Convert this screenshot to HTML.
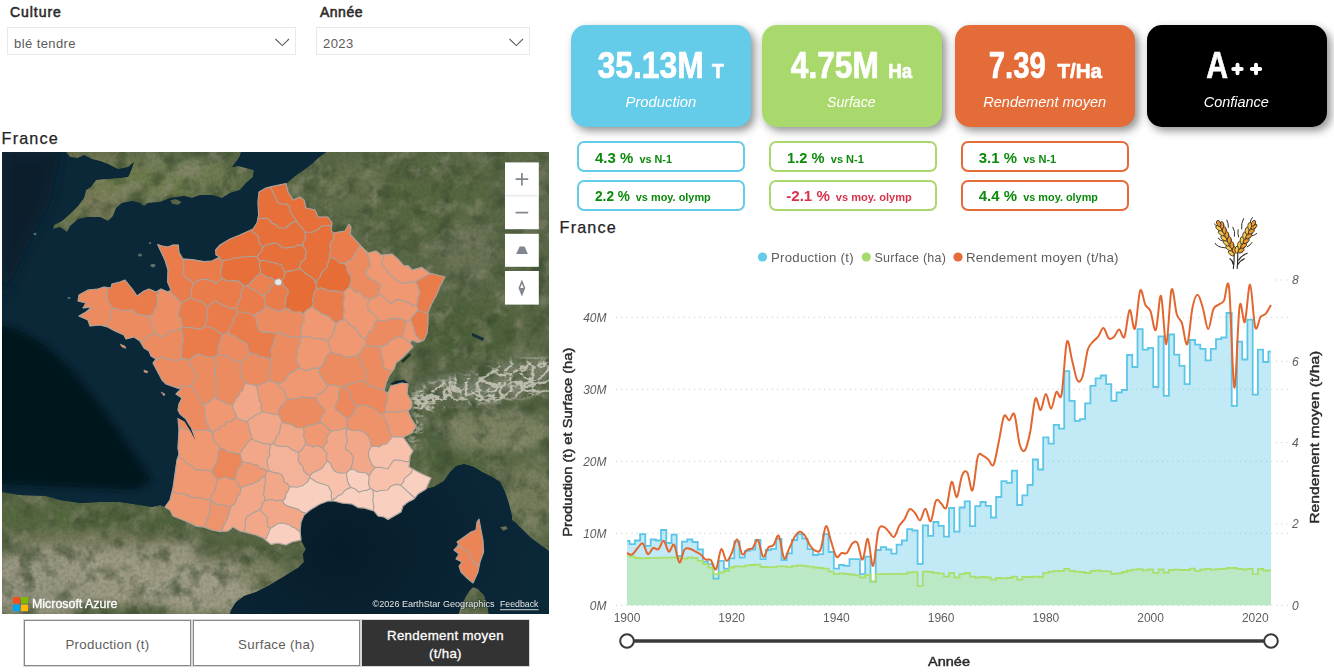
<!DOCTYPE html>
<html><head><meta charset="utf-8"><title>Dashboard</title>
<style>
*{box-sizing:border-box}
html,body{margin:0;padding:0}
body{width:1334px;height:672px;overflow:hidden;background:#fff;font-family:"Liberation Sans",sans-serif;position:relative;color:#252423}
.abs{position:absolute}
.slab{position:absolute;top:4px;font-size:14px;font-weight:normal;letter-spacing:.5px;-webkit-text-stroke:.55px #2b2a29;line-height:16px;color:#2b2a29}
.sbox{position:absolute;top:27px;height:28px;border:1px solid #e9e9e9;background:#fff;font-size:13px;letter-spacing:.42px;color:#5b5a58;line-height:28px;padding-left:6px;padding-top:2px}
.ttl{position:absolute;font-size:16.2px;letter-spacing:1.15px;line-height:18px;color:#252423;-webkit-text-stroke:.25px #252423}
.card{position:absolute;top:25px;width:180px;height:102px;border-radius:15px;box-shadow:3.5px 4px 9px rgba(0,0,0,.42);color:#fff;text-align:center}
.card .v{position:absolute;left:0;right:0;top:22px;font-weight:bold;font-size:34px;line-height:36px;white-space:nowrap;transform:scaleX(.935)}
.card .v small{font-size:19px;letter-spacing:0;margin-left:3px}
.card .l{position:absolute;left:0;right:0;top:66px;font-style:italic;font-size:15px;line-height:20px}
.bdg{position:absolute;width:168px;height:31px;border:2px solid;border-radius:7px;background:#fff;font-weight:bold;color:#0c8a0c;white-space:nowrap;padding-left:16px;line-height:29px;font-size:14.5px}
.bdg small{font-size:11px;margin-left:2px}
.bdg.neg{color:#d8334c}
.btn{position:absolute;top:620.4px;height:45.6px;width:166.9px;border:1px solid #8a8886;outline:1px solid #d8d8d8;outline-offset:0;background:#fff;color:#605e5c;font-size:13.3px;text-align:center;line-height:47.5px;letter-spacing:.3px}
.btn.on{background:#333;color:#fff;border-color:#333;line-height:17.8px;padding-top:5.6px;-webkit-text-stroke:.3px #fff}
svg text{font-family:"Liberation Sans",sans-serif}
</style></head><body>

<div class="slab" style="left:10px;letter-spacing:.95px">Culture</div>
<div class="sbox" style="left:7px;width:289px">blé tendre</div>
<svg class="abs" style="left:272px;top:34px" width="22" height="16"><polyline points="3.5,5 10.3,11.6 17,5" fill="none" stroke="#605e5c" stroke-width="1.1"/></svg>
<div class="slab" style="left:320px">Année</div>
<div class="sbox" style="left:316px;width:213.5px">2023</div>
<svg class="abs" style="left:505.5px;top:34px" width="22" height="16"><polyline points="3.5,5 10.3,11.6 17,5" fill="none" stroke="#605e5c" stroke-width="1.1"/></svg>

<div class="ttl" style="left:1.6px;top:129px">France</div>
<div class="abs" id="map" style="left:2px;top:152px;width:547px;height:462.4px;overflow:hidden;background:#0b2636"><svg width="547" height="462" viewBox="2 152 547 462" style="position:absolute;left:0;top:0">
<defs>
<radialGradient id="oc1" cx="0.12" cy="0.62" r="0.42"><stop offset="0" stop-color="#03131d"/><stop offset="1" stop-color="#03131d" stop-opacity="0"/></radialGradient>
<radialGradient id="oc2" cx="0.62" cy="0.86" r="0.35"><stop offset="0" stop-color="#071c2a"/><stop offset="1" stop-color="#071c2a" stop-opacity="0"/></radialGradient>
<filter id="tex" x="0" y="0" width="100%" height="100%" color-interpolation-filters="sRGB">
<feTurbulence type="fractalNoise" baseFrequency="0.055" numOctaves="5" seed="11" result="n"/>
<feColorMatrix in="n" type="matrix" values="0 0 0 0 0  0 0 0 0 0  0 0 0 0 0  3.2 0 0 0 -1.5" result="a"/>
<feFlood flood-color="#3c4d31" flood-opacity=".65"/><feComposite operator="in" in2="a" result="dark"/>
<feColorMatrix in="n" type="matrix" values="0 0 0 0 0  0 0 0 0 0  0 0 0 0 0  0 3.2 0 0 -1.62" result="a2"/>
<feFlood flood-color="#93917a" flood-opacity=".55"/><feComposite operator="in" in2="a2" result="lite"/>
<feTurbulence type="fractalNoise" baseFrequency="0.3" numOctaves="2" seed="3" result="g"/>
<feColorMatrix in="g" type="matrix" values="0 0 0 0 0  0 0 0 0 0  0 0 0 0 0  0 0 1.6 0 -0.62" result="a3"/>
<feFlood flood-color="#2f3c26" flood-opacity=".25"/><feComposite operator="in" in2="a3" result="grain"/>
<feMerge result="m"><feMergeNode in="SourceGraphic"/><feMergeNode in="dark"/><feMergeNode in="lite"/><feMergeNode in="grain"/></feMerge>
<feComposite in="m" in2="SourceGraphic" operator="in"/>
</filter>
<filter id="snow" x="-10%" y="-30%" width="120%" height="160%" color-interpolation-filters="sRGB">
<feGaussianBlur in="SourceAlpha" stdDeviation="3.5" result="soft"/>
<feTurbulence type="turbulence" baseFrequency="0.09 0.12" numOctaves="3" seed="5" result="t"/>
<feColorMatrix in="t" type="matrix" values="0 0 0 0 0  0 0 0 0 0  0 0 0 0 0  -4.2 0 0 0 1.38" result="ta"/>
<feComposite in="ta" in2="soft" operator="arithmetic" k1="1.5" k2="0" k3="0" k4="0" result="mask"/>
<feFlood flood-color="#cbc9bd" flood-opacity=".85"/><feComposite operator="in" in2="mask"/>
<feGaussianBlur stdDeviation="0.7"/>
</filter>
<filter id="b3"><feGaussianBlur stdDeviation="3"/></filter>
<filter id="b6"><feGaussianBlur stdDeviation="6"/></filter>
<filter id="b1"><feGaussianBlur stdDeviation="0.5"/></filter>
<clipPath id="landclip"><path d="M286.0,183.6L295.0,176.0L305.0,169.0L313.0,163.0L318.0,158.0L326.0,152.0L549.0,152.0L549.0,551.0L539.0,544.0L531.0,538.0L523.0,530.0L516.0,523.0L512.0,520.0L512.0,516.0L509.0,504.0L505.0,492.0L500.0,482.0L492.0,477.0L482.0,472.0L474.0,467.0L464.0,464.0L456.0,466.0L450.0,472.0L444.0,481.0L434.0,487.0L426.0,489.0L380.0,480.0L350.0,300.0L300.0,220.0L280.0,200.0ZM165.0,507.0L160.0,505.0L152.0,507.0L140.0,505.0L120.0,502.0L100.0,502.0L80.0,503.0L60.0,500.0L46.0,496.0L20.0,495.0L2.0,492.0L2.0,614.0L230.0,614.0L231.0,610.0L236.0,602.0L244.0,596.0L256.0,592.0L268.0,586.0L278.0,580.0L288.0,574.0L298.0,568.0L304.0,562.0L303.0,554.0L306.0,549.0L304.0,546.0L301.0,540.0L290.0,520.0L200.0,500.0ZM66.0,152.0L70.0,157.0L78.0,158.0L84.0,155.0L92.0,159.0L100.0,161.0L108.0,164.0L118.0,169.0L128.0,167.0L134.0,162.0L131.0,171.0L128.0,177.0L120.0,178.0L108.0,179.0L96.0,180.0L91.0,187.0L86.0,190.0L84.0,198.0L78.0,206.0L70.0,214.0L62.0,221.0L54.0,225.0L53.0,229.0L60.0,227.0L67.0,232.0L70.0,226.0L78.0,219.0L88.0,217.0L100.0,217.0L108.0,221.0L113.0,216.0L116.0,208.0L122.0,203.0L132.0,201.0L140.0,203.0L144.0,206.0L148.0,203.0L160.0,202.0L170.0,198.0L184.0,196.0L192.0,198.0L200.0,195.0L212.0,195.0L222.0,198.0L230.0,193.0L240.0,190.0L246.0,183.0L253.0,177.0L254.0,170.0L246.0,168.0L238.0,166.0L232.0,167.0L236.0,162.0L240.0,156.0L241.0,152.0ZM473.0,587.0L478.0,589.0L484.0,595.0L487.0,603.0L489.0,615.0L458.0,615.0L462.0,604.0L466.0,596.0L470.0,590.0Z"/></clipPath>
</defs>
<rect x="2" y="152" width="547" height="462" fill="#0b2838"/>
<path d="M-10,322L20,330L45,345L70,368L95,398L118,430L140,462L152,480L135,490L90,488L40,486L-10,484Z" fill="#04151f" filter="url(#b3)" opacity=".95"/>
<path d="M2,152L60,152L50,200L20,260L2,300Z" fill="#071d2b" filter="url(#b6)" opacity=".8"/>
<rect x="2" y="152" width="547" height="462" fill="url(#oc2)"/>
<g filter="url(#b1)"><g filter="url(#tex)"><path d="M286.0,183.6L295.0,176.0L305.0,169.0L313.0,163.0L318.0,158.0L326.0,152.0L549.0,152.0L549.0,551.0L539.0,544.0L531.0,538.0L523.0,530.0L516.0,523.0L512.0,520.0L512.0,516.0L509.0,504.0L505.0,492.0L500.0,482.0L492.0,477.0L482.0,472.0L474.0,467.0L464.0,464.0L456.0,466.0L450.0,472.0L444.0,481.0L434.0,487.0L426.0,489.0L380.0,480.0L350.0,300.0L300.0,220.0L280.0,200.0ZM165.0,507.0L160.0,505.0L152.0,507.0L140.0,505.0L120.0,502.0L100.0,502.0L80.0,503.0L60.0,500.0L46.0,496.0L20.0,495.0L2.0,492.0L2.0,614.0L230.0,614.0L231.0,610.0L236.0,602.0L244.0,596.0L256.0,592.0L268.0,586.0L278.0,580.0L288.0,574.0L298.0,568.0L304.0,562.0L303.0,554.0L306.0,549.0L304.0,546.0L301.0,540.0L290.0,520.0L200.0,500.0ZM66.0,152.0L70.0,157.0L78.0,158.0L84.0,155.0L92.0,159.0L100.0,161.0L108.0,164.0L118.0,169.0L128.0,167.0L134.0,162.0L131.0,171.0L128.0,177.0L120.0,178.0L108.0,179.0L96.0,180.0L91.0,187.0L86.0,190.0L84.0,198.0L78.0,206.0L70.0,214.0L62.0,221.0L54.0,225.0L53.0,229.0L60.0,227.0L67.0,232.0L70.0,226.0L78.0,219.0L88.0,217.0L100.0,217.0L108.0,221.0L113.0,216.0L116.0,208.0L122.0,203.0L132.0,201.0L140.0,203.0L144.0,206.0L148.0,203.0L160.0,202.0L170.0,198.0L184.0,196.0L192.0,198.0L200.0,195.0L212.0,195.0L222.0,198.0L230.0,193.0L240.0,190.0L246.0,183.0L253.0,177.0L254.0,170.0L246.0,168.0L238.0,166.0L232.0,167.0L236.0,162.0L240.0,156.0L241.0,152.0ZM473.0,587.0L478.0,589.0L484.0,595.0L487.0,603.0L489.0,615.0L458.0,615.0L462.0,604.0L466.0,596.0L470.0,590.0ZM170.0,200.0L176.0,199.0L182.0,202.0L178.0,205.0L172.0,204.0ZM500.0,527.0L506.0,526.0L508.0,529.0L503.0,531.0Z" fill="#5b6947"/>
<g clip-path="url(#landclip)" filter="url(#b6)">
<ellipse cx="430" cy="200" rx="60" ry="40" fill="#56683f" opacity="0.8"/>
<ellipse cx="350" cy="185" rx="40" ry="22" fill="#6c7553" opacity="0.8"/>
<ellipse cx="470" cy="330" rx="50" ry="26" fill="#4f633b" opacity="0.9"/>
<ellipse cx="470" cy="250" rx="30" ry="30" fill="#72785c" opacity="0.7"/>
<ellipse cx="530" cy="200" rx="20" ry="50" fill="#6c7356" opacity="0.6"/>
<ellipse cx="430" cy="440" rx="18" ry="18" fill="#4d633d" opacity="0.8"/>
<ellipse cx="480" cy="385" rx="75" ry="22" fill="#4b5d3a" opacity="0.6"/>
<ellipse cx="470" cy="388" rx="55" ry="9" fill="#8f9484" opacity="0.7"/>
<ellipse cx="525" cy="372" rx="28" ry="10" fill="#8f9484" opacity="0.7"/>
<ellipse cx="495" cy="432" rx="55" ry="20" fill="#7f8666" opacity="0.95"/>
<ellipse cx="530" cy="500" rx="25" ry="40" fill="#7c8260" opacity="0.8"/>
<ellipse cx="480" cy="160" rx="60" ry="12" fill="#5d6c48" opacity="0.6"/>
<ellipse cx="455" cy="463" rx="34" ry="8" fill="#4f643b" opacity="0.9"/>
<ellipse cx="130" cy="572" rx="140" ry="34" fill="#a19d86" opacity="1"/>
<ellipse cx="60" cy="520" rx="75" ry="14" fill="#55693e" opacity="0.95"/>
<ellipse cx="150" cy="522" rx="50" ry="10" fill="#4f633b" opacity="0.95"/>
<ellipse cx="235" cy="552" rx="45" ry="11" fill="#55623f" opacity="0.95"/>
<ellipse cx="205" cy="592" rx="60" ry="24" fill="#a19e88" opacity="0.95"/>
<ellipse cx="40" cy="590" rx="55" ry="30" fill="#9a9884" opacity="0.95"/>
<ellipse cx="262" cy="575" rx="25" ry="18" fill="#7c8162" opacity="0.85"/>
<ellipse cx="100" cy="540" rx="80" ry="10" fill="#77795a" opacity="0.8"/>
<ellipse cx="150" cy="178" rx="75" ry="20" fill="#717d50" opacity="0.95"/>
<ellipse cx="100" cy="205" rx="26" ry="14" fill="#868462" opacity="0.85"/>
<ellipse cx="215" cy="178" rx="30" ry="14" fill="#6f7b50" opacity="0.9"/>
<ellipse cx="90" cy="160" rx="32" ry="8" fill="#7b7c5a" opacity="0.85"/>
<ellipse cx="70" cy="215" rx="16" ry="9" fill="#717d50" opacity="0.9"/>
<ellipse cx="185" cy="165" rx="40" ry="10" fill="#75805a" opacity="0.8"/>
</g></g></g>
<g clip-path="url(#landclip)"><path filter="url(#snow)" d="M410,398C425,384 445,378 465,377C485,374 500,362 520,360C535,358 545,360 552,362L552,392C540,392 528,396 512,398C495,402 480,404 465,402C445,400 430,412 416,416Z" fill="#fff"/><path filter="url(#snow)" d="M412,418C416,428 410,436 408,446L414,448C418,438 424,428 422,416Z" fill="#fff" opacity=".7"/></g>
<path d="M390,384L396,380.5L404,380L408,383L402,383.5L394,385Z" fill="#0c2634"/>
<path d="M401,361L410,353L411,355L403,363Z" fill="#1f3324"/>
<path d="M472,333L484,338L483,341L472,336Z" fill="#16303a"/>
<g stroke="none">
<path d="M282.3,204.2L286.9,204.0L289.7,207.0L290.0,211.3L299.2,225.1L302.5,228.2L304.9,232.0L312.2,232.3L318.8,229.1L321.7,226.1L328.8,225.5L331.6,225.8L332.0,223.0L328.0,217.0L318.0,217.0L315.0,210.0L306.0,208.0L304.0,200.0L300.0,197.0L293.0,200.0L288.0,192.0L286.0,183.6L270.5,186.9L278.0,202.7Z" fill="#e76f39" stroke="#e76f39" stroke-width=".5"/>
<path d="M262.5,218.6L266.5,218.0L269.7,220.1L272.1,223.4L276.1,224.6L278.6,227.7L282.9,228.2L286.7,227.5L289.6,224.3L292.8,222.1L296.6,221.2L290.0,211.3L289.7,207.0L286.9,204.0L282.3,204.2L278.0,202.7L270.5,186.9L266.0,188.0L259.0,192.0L258.0,202.0L258.6,215.0L258.0,218.0Z" fill="#e76f39" stroke="#e76f39" stroke-width=".5"/>
<path d="M252.6,231.6L258.7,236.7L258.7,240.9L260.0,244.4L262.8,247.1L266.1,245.0L273.4,243.1L277.3,243.3L282.5,247.8L286.6,247.9L290.6,247.1L294.7,247.0L298.6,244.6L302.9,245.9L303.4,242.5L305.4,239.2L304.9,232.0L302.5,228.2L299.2,225.1L296.6,221.2L292.8,222.1L289.6,224.3L286.7,227.5L282.9,228.2L278.6,227.7L276.1,224.6L272.1,223.4L269.7,220.1L266.5,218.0L262.5,218.6L258.0,218.0L257.0,223.0L253.0,229.0L252.0,229.5Z" fill="#e76f39" stroke="#e76f39" stroke-width=".5"/>
<path d="M246.3,257.0L249.8,256.3L256.9,256.5L261.7,250.8L262.8,247.1L260.0,244.4L258.7,240.9L258.7,236.7L252.6,231.6L252.0,229.5L240.0,235.0L230.0,239.0L220.0,245.0L215.6,250.0L216.0,255.0L220.0,257.0L217.8,258.1L219.3,259.3L223.0,260.6L230.6,259.2L234.3,258.0L238.2,258.0L242.0,257.2L242.8,256.5Z" fill="#e76f39" stroke="#e76f39" stroke-width=".5"/>
<path d="M259.6,261.1L263.5,260.2L281.6,264.8L282.9,268.7L285.3,272.0L288.9,271.5L296.1,269.8L299.5,268.3L300.2,264.6L301.8,261.2L305.5,258.7L305.6,254.7L306.4,251.0L302.9,245.9L298.6,244.6L294.7,247.0L290.6,247.1L286.6,247.9L282.5,247.8L277.3,243.3L273.4,243.1L266.1,245.0L262.8,247.1L261.7,250.8L256.9,256.5Z" fill="#e76f39" stroke="#e76f39" stroke-width=".5"/>
<path d="M305.4,239.2L303.4,242.5L302.9,245.9L306.4,251.0L305.6,254.7L305.5,258.7L301.8,261.2L300.2,264.6L299.5,268.3L305.2,273.3L311.7,277.4L314.4,280.0L316.1,283.8L317.2,280.2L319.9,277.4L321.1,273.9L323.2,270.8L326.7,268.4L328.5,261.0L329.9,257.5L329.2,256.3L329.8,252.7L331.1,249.3L329.6,245.3L331.0,242.0L333.8,238.9L333.2,235.1L334.3,232.8L333.0,233.0L331.0,230.0L331.6,225.8L328.8,225.5L321.7,226.1L318.8,229.1L312.2,232.3L304.9,232.0Z" fill="#e76f39" stroke="#e76f39" stroke-width=".5"/>
<path d="M333.2,235.1L333.8,238.9L331.0,242.0L329.6,245.3L331.1,249.3L329.8,252.7L329.2,256.3L329.9,257.5L333.9,258.1L340.3,263.2L344.4,263.6L347.2,261.3L351.0,260.2L356.8,251.1L358.3,247.6L361.1,246.1L350.0,234.0L351.0,227.0L349.0,224.4L345.0,231.0L334.3,232.8Z" fill="#ea7c4b" stroke="#ea7c4b" stroke-width=".5"/>
<path d="M328.5,261.0L326.7,268.4L323.2,270.8L321.1,273.9L319.9,277.4L317.2,280.2L316.1,283.8L316.6,288.8L320.7,287.9L328.3,290.4L332.2,291.1L336.2,290.6L340.0,292.0L344.0,291.9L349.0,287.2L350.7,282.4L351.6,277.4L347.2,270.9L346.9,266.6L344.4,263.6L340.3,263.2L333.9,258.1L329.9,257.5Z" fill="#e76d36" stroke="#e76d36" stroke-width=".5"/>
<path d="M356.8,251.1L351.0,260.2L347.2,261.3L344.4,263.6L346.9,266.6L347.2,270.9L351.6,277.4L350.7,282.4L349.0,287.2L352.6,289.1L355.4,292.5L360.1,292.4L362.8,295.9L366.0,298.5L370.3,299.0L375.1,297.7L378.8,294.4L379.3,289.4L380.8,284.6L377.5,282.9L374.8,280.2L370.7,279.6L365.7,273.8L367.2,269.2L370.7,265.9L370.2,262.0L366.0,251.0L361.1,246.1L358.3,247.6Z" fill="#ed8b60" stroke="#ed8b60" stroke-width=".5"/>
<path d="M366.0,251.0L370.2,262.0L370.7,265.9L367.2,269.2L365.7,273.8L370.7,279.6L374.8,280.2L377.5,282.9L380.8,284.6L379.3,289.4L378.8,294.4L382.4,296.1L388.2,301.3L391.5,303.4L394.8,300.6L399.1,299.4L402.4,300.9L406.1,301.3L412.3,305.4L416.2,305.4L417.7,301.4L418.2,297.0L420.1,293.1L417.7,285.3L415.1,282.1L413.8,281.4L405.5,283.4L401.2,282.5L397.7,281.3L392.4,276.4L391.9,276.4L388.7,274.0L387.1,270.1L381.8,264.3L382.4,260.8L384.7,254.7L381.0,255.0L376.0,251.0L368.0,253.0Z" fill="#ef9872" stroke="#ef9872" stroke-width=".5"/>
<path d="M382.4,260.8L381.8,264.3L387.1,270.1L388.7,274.0L391.9,276.4L392.4,276.4L397.7,281.3L401.2,282.5L405.5,283.4L413.8,281.4L415.1,282.1L430.4,273.3L429.0,273.0L422.0,267.4L412.0,270.0L408.0,265.6L404.0,266.0L398.0,259.0L392.0,254.0L384.7,254.7Z" fill="#ef9872" stroke="#ef9872" stroke-width=".5"/>
<path d="M417.7,285.3L420.1,293.1L418.2,297.0L417.7,301.4L416.2,305.4L417.4,307.9L418.0,310.5L428.0,313.3L428.0,312.0L432.0,303.0L436.0,296.0L440.0,286.0L445.0,277.0L430.4,273.3L415.1,282.1Z" fill="#ea7c4b" stroke="#ea7c4b" stroke-width=".5"/>
<path d="M410.4,320.0L413.5,326.4L415.0,333.6L416.8,336.7L421.6,341.0L424.0,340.0L427.0,333.0L428.0,324.0L428.0,313.3L418.0,310.5L412.4,316.4Z" fill="#ea7c4b" stroke="#ea7c4b" stroke-width=".5"/>
<path d="M223.0,260.6L220.7,271.5L220.7,275.2L223.0,278.8L226.5,280.8L234.8,280.6L238.7,281.2L244.0,286.0L245.7,285.8L249.5,284.4L251.8,281.2L254.7,278.7L257.1,275.6L260.2,273.4L260.6,269.3L259.4,265.2L259.6,261.1L256.9,256.5L249.8,256.3L246.3,257.0L242.8,256.5L242.0,257.2L238.2,258.0L234.3,258.0L230.6,259.2Z" fill="#e76f39" stroke="#e76f39" stroke-width=".5"/>
<path d="M259.4,265.2L260.6,269.3L260.2,273.4L263.7,274.8L266.6,277.2L270.7,277.6L273.8,279.6L276.7,282.2L281.4,281.0L284.0,276.8L285.3,272.0L282.9,268.7L281.6,264.8L263.5,260.2L259.6,261.1Z" fill="#e76f39" stroke="#e76f39" stroke-width=".5"/>
<path d="M257.1,275.6L254.7,278.7L251.8,281.2L249.5,284.4L245.7,285.8L258.6,292.1L261.1,294.9L264.1,296.7L265.8,293.0L269.5,291.2L270.1,286.7L276.7,282.2L273.8,279.6L270.7,277.6L266.6,277.2L263.7,274.8L260.2,273.4Z" fill="#eb8051" stroke="#eb8051" stroke-width=".5"/>
<path d="M264.1,296.7L265.6,305.8L276.1,310.5L279.9,311.4L284.9,308.8L285.8,297.1L288.3,293.6L287.9,289.5L285.2,287.1L281.4,281.0L276.7,282.2L270.1,286.7L269.5,291.2L265.8,293.0Z" fill="#ea7c4b" stroke="#ea7c4b" stroke-width=".5"/>
<path d="M281.4,281.0L285.2,287.1L287.9,289.5L288.3,293.6L285.8,297.1L284.9,308.8L288.9,308.9L292.2,311.7L296.0,312.3L300.2,311.8L303.7,313.9L305.9,310.6L312.5,306.6L313.5,303.1L312.4,299.4L313.6,295.9L314.1,292.3L316.6,288.8L316.1,283.8L314.4,280.0L311.7,277.4L305.2,273.3L299.5,268.3L296.1,269.8L285.3,272.0L284.0,276.8Z" fill="#e76d36" stroke="#e76d36" stroke-width=".5"/>
<path d="M313.6,295.9L312.4,299.4L313.5,303.1L312.5,306.6L315.0,309.4L318.1,311.2L320.9,313.6L328.0,316.1L330.9,318.4L333.2,321.5L336.3,323.3L339.7,320.5L344.0,319.5L343.1,315.6L344.3,311.6L344.0,307.7L343.0,303.7L344.3,299.8L344.0,291.9L340.0,292.0L336.2,290.6L332.2,291.1L328.3,290.4L320.7,287.9L316.6,288.8L314.1,292.3Z" fill="#ea7c4b" stroke="#ea7c4b" stroke-width=".5"/>
<path d="M207.7,279.6L212.3,280.7L216.0,283.9L219.1,280.7L223.0,278.8L220.7,275.2L220.7,271.5L223.0,260.6L219.3,259.3L217.8,258.1L212.0,261.0L204.0,261.6L192.0,259.6L184.4,259.1L183.0,260.6L183.9,268.8L183.0,273.1L184.6,277.1L191.1,280.4L193.0,283.7L199.4,280.1L203.0,279.2Z" fill="#ea7c4b" stroke="#ea7c4b" stroke-width=".5"/>
<path d="M165.0,260.0L168.0,270.0L167.6,282.0L171.0,290.0L169.0,291.3L170.9,292.3L173.2,295.3L176.5,297.3L181.3,303.3L184.3,301.2L190.7,297.8L191.5,294.3L191.5,290.7L193.0,283.7L191.1,280.4L184.6,277.1L183.0,273.1L183.9,268.8L183.0,260.6L184.4,259.1L183.0,259.0L179.0,252.6L178.3,245.0L173.0,245.0L168.0,247.0L162.0,246.0L157.7,244.6Z" fill="#ea7c4b" stroke="#ea7c4b" stroke-width=".5"/>
<path d="M191.5,290.7L191.5,294.3L190.7,297.8L194.2,299.6L197.9,300.8L202.0,301.4L204.7,304.7L208.1,306.6L211.4,302.9L216.0,301.3L223.4,305.5L231.1,308.7L235.7,307.9L237.8,304.5L238.7,300.7L241.0,297.4L240.8,293.1L244.0,286.0L238.7,281.2L234.8,280.6L226.5,280.8L223.0,278.8L219.1,280.7L216.0,283.9L212.3,280.7L207.7,279.6L203.0,279.2L199.4,280.1L193.0,283.7Z" fill="#ea7c4b" stroke="#ea7c4b" stroke-width=".5"/>
<path d="M244.0,286.0L240.8,293.1L241.0,297.4L238.7,300.7L237.8,304.5L235.7,307.9L237.6,312.0L241.9,312.0L245.9,313.2L250.1,313.7L253.9,315.6L257.0,313.3L260.6,311.7L263.6,309.4L265.6,305.8L264.1,296.7L261.1,294.9L258.6,292.1L245.7,285.8Z" fill="#ea7c4b" stroke="#ea7c4b" stroke-width=".5"/>
<path d="M107.6,299.4L107.3,287.5L104.0,287.0L98.0,289.0L88.0,290.0L79.0,295.0L78.0,301.0L86.0,303.0L83.0,308.0L92.0,307.0L86.0,312.0L79.0,316.0L88.0,320.0L90.0,326.0L100.0,325.0L107.6,326.9L107.7,322.0L110.0,318.8L111.2,311.6L112.7,308.2L111.0,305.3L108.6,302.9Z" fill="#ed8b60" stroke="#ed8b60" stroke-width=".5"/>
<path d="M107.3,287.5L107.6,299.4L108.6,302.9L111.0,305.3L112.7,308.2L116.7,308.7L120.6,310.7L132.9,309.8L134.5,312.2L136.8,314.0L145.5,315.9L149.9,315.8L153.8,312.9L154.5,309.4L157.1,306.4L157.7,299.3L156.6,295.5L158.8,292.4L158.9,290.3L156.0,292.0L149.0,289.0L144.0,291.0L137.0,296.0L133.0,290.0L125.0,280.0L120.0,282.0L112.0,284.0L111.0,288.0Z" fill="#ea7c4b" stroke="#ea7c4b" stroke-width=".5"/>
<path d="M111.2,311.6L110.0,318.8L107.7,322.0L107.6,326.9L115.0,331.0L124.0,335.0L126.0,339.0L134.0,337.0L140.0,341.0L140.9,342.7L142.3,341.0L145.4,339.1L151.0,334.2L154.7,333.2L154.4,329.5L150.2,323.2L149.9,315.8L145.5,315.9L136.8,314.0L134.5,312.2L132.9,309.8L120.6,310.7L116.7,308.7L112.7,308.2Z" fill="#ed8b60" stroke="#ed8b60" stroke-width=".5"/>
<path d="M156.6,295.5L157.7,299.3L157.1,306.4L154.5,309.4L153.8,312.9L149.9,315.8L149.8,319.6L150.2,323.2L154.4,329.5L154.7,333.2L161.2,336.7L164.6,335.6L167.4,333.1L170.5,331.4L181.0,328.8L182.5,326.8L180.9,318.5L177.9,315.3L179.5,311.4L179.7,307.2L181.3,303.3L176.5,297.3L173.2,295.3L170.9,292.3L169.0,291.3L168.0,292.0L161.0,289.0L158.9,290.3L158.8,292.4Z" fill="#ed8e64" stroke="#ed8e64" stroke-width=".5"/>
<path d="M179.7,307.2L179.5,311.4L177.9,315.3L180.9,318.5L182.5,326.8L186.6,327.9L190.8,327.2L194.9,328.4L199.0,328.9L202.3,328.0L205.1,326.2L205.9,322.3L207.8,318.6L207.1,314.4L207.3,310.5L208.1,306.6L204.7,304.7L202.0,301.4L197.9,300.8L194.2,299.6L190.7,297.8L184.3,301.2L181.3,303.3Z" fill="#ea7c4b" stroke="#ea7c4b" stroke-width=".5"/>
<path d="M207.3,310.5L207.1,314.4L207.8,318.6L205.9,322.3L205.1,326.2L212.8,328.2L216.2,330.4L219.3,333.1L223.3,334.0L228.3,332.2L229.0,328.4L231.7,325.6L233.3,322.3L233.4,318.2L236.2,315.4L237.6,312.0L235.7,307.9L231.1,308.7L223.4,305.5L216.0,301.3L211.4,302.9L208.1,306.6Z" fill="#ea7c4b" stroke="#ea7c4b" stroke-width=".5"/>
<path d="M256.3,323.4L259.5,330.9L263.6,332.7L268.0,332.3L276.5,333.7L277.9,332.9L282.0,332.7L285.4,335.4L289.1,336.6L293.0,337.0L297.1,336.5L300.7,338.2L301.9,337.4L300.6,329.4L301.9,325.6L304.2,321.8L303.7,313.9L300.2,311.8L296.0,312.3L292.2,311.7L288.9,308.9L284.9,308.8L279.9,311.4L276.1,310.5L265.6,305.8L263.6,309.4L260.6,311.7L257.0,313.3L253.9,315.6L256.6,319.0Z" fill="#ed8b60" stroke="#ed8b60" stroke-width=".5"/>
<path d="M303.7,313.9L304.2,321.8L301.9,325.6L300.6,329.4L301.9,337.4L309.5,336.8L313.0,338.2L316.7,338.7L320.4,338.6L327.6,340.8L330.5,337.9L334.1,331.0L336.3,323.3L333.2,321.5L330.9,318.4L328.0,316.1L320.9,313.6L318.1,311.2L315.0,309.4L312.5,306.6L305.9,310.6Z" fill="#ef9872" stroke="#ef9872" stroke-width=".5"/>
<path d="M233.4,318.2L233.3,322.3L231.7,325.6L229.0,328.4L228.3,332.2L231.0,335.0L234.7,336.3L240.9,340.6L244.5,342.1L247.5,344.4L247.8,348.6L249.1,352.7L252.4,354.3L256.4,353.8L259.4,356.7L263.3,356.7L266.7,358.1L270.3,358.9L271.6,358.0L271.9,354.4L271.3,350.7L271.8,347.2L274.1,344.1L273.8,340.4L275.8,337.2L276.5,333.7L268.0,332.3L263.6,332.7L259.5,330.9L256.3,323.4L256.6,319.0L253.9,315.6L250.1,313.7L245.9,313.2L241.9,312.0L237.6,312.0L236.2,315.4Z" fill="#ea7c4b" stroke="#ea7c4b" stroke-width=".5"/>
<path d="M166.1,359.1L176.7,360.5L181.0,358.9L181.5,355.1L181.4,347.6L183.5,340.1L182.6,336.3L182.6,332.6L181.0,328.8L170.5,331.4L167.4,333.1L164.6,335.6L161.2,336.7L154.7,333.2L151.0,334.2L145.4,339.1L142.3,341.0L140.9,342.7L144.0,348.0L149.0,351.0L151.0,356.0L156.0,359.0L155.3,359.9L156.9,359.8L163.2,356.6Z" fill="#ed8b60" stroke="#ed8b60" stroke-width=".5"/>
<path d="M202.8,355.7L210.7,357.5L215.0,356.6L218.3,354.0L218.0,349.6L219.5,341.5L223.3,334.0L219.3,333.1L216.2,330.4L212.8,328.2L205.1,326.2L202.3,328.0L199.0,328.9L194.9,328.4L190.8,327.2L186.6,327.9L182.5,326.8L181.0,328.8L182.6,332.6L182.6,336.3L183.5,340.1L181.4,347.6L181.5,355.1L181.0,358.9L185.0,358.9L188.7,360.3L195.1,355.2L199.0,353.7Z" fill="#ea7c4b" stroke="#ea7c4b" stroke-width=".5"/>
<path d="M223.3,334.0L219.5,341.5L218.0,349.6L218.3,354.0L221.5,355.5L225.3,355.6L228.7,356.7L231.5,359.5L234.8,361.0L241.8,362.8L244.1,359.3L247.0,356.3L249.1,352.7L247.8,348.6L247.5,344.4L244.5,342.1L240.9,340.6L234.7,336.3L231.0,335.0L228.3,332.2Z" fill="#ed8b60" stroke="#ed8b60" stroke-width=".5"/>
<path d="M273.8,340.4L274.1,344.1L271.8,347.2L271.3,350.7L271.9,354.4L271.6,358.0L270.3,358.9L270.8,362.5L269.5,369.6L268.1,373.1L268.6,380.3L273.2,381.6L277.4,383.9L281.4,382.6L284.5,380.1L289.6,373.6L293.2,371.8L296.3,369.3L300.0,367.7L298.4,363.7L296.0,360.2L296.4,356.4L297.6,352.9L297.3,348.9L299.5,345.6L300.7,338.2L297.1,336.5L293.0,337.0L289.1,336.6L285.4,335.4L282.0,332.7L277.9,332.9L276.5,333.7L275.8,337.2Z" fill="#ed8b60" stroke="#ed8b60" stroke-width=".5"/>
<path d="M300.7,338.2L299.5,345.6L297.3,348.9L297.6,352.9L296.4,356.4L296.0,360.2L298.4,363.7L300.0,367.7L303.0,369.7L306.9,370.8L314.5,367.9L318.4,368.6L321.7,366.7L323.6,363.7L324.6,359.9L326.2,356.6L328.5,353.9L332.0,352.0L328.6,344.7L327.6,340.8L324.0,339.5L320.4,338.6L316.7,338.7L313.0,338.2L309.5,336.8L305.7,336.9L301.9,337.4Z" fill="#ef9872" stroke="#ef9872" stroke-width=".5"/>
<path d="M344.3,299.8L343.0,303.7L344.0,307.7L344.3,311.6L343.1,315.6L344.0,319.5L346.1,320.1L348.0,323.5L357.3,330.1L358.8,333.9L361.3,336.8L364.7,338.7L367.4,335.9L368.8,332.2L372.5,330.1L375.0,322.5L378.0,320.0L375.6,315.9L372.3,312.7L368.2,310.2L367.7,306.3L368.0,302.5L370.3,299.0L366.0,298.5L362.8,295.9L360.1,292.4L355.4,292.5L352.6,289.1L349.0,287.2L344.0,291.9Z" fill="#ef9872" stroke="#ef9872" stroke-width=".5"/>
<path d="M367.7,306.3L368.2,310.2L372.3,312.7L375.6,315.9L378.0,320.0L382.9,320.5L387.8,320.0L390.2,318.0L394.2,318.9L398.5,318.1L402.5,319.2L406.3,321.3L410.4,320.0L412.4,316.4L418.0,310.5L417.4,307.9L416.2,305.4L412.3,305.4L406.1,301.3L402.4,300.9L399.1,299.4L394.8,300.6L391.5,303.4L388.2,301.3L382.4,296.1L378.8,294.4L375.1,297.7L370.3,299.0L368.0,302.5Z" fill="#ef9872" stroke="#ef9872" stroke-width=".5"/>
<path d="M390.1,340.5L397.6,337.1L401.9,337.5L404.8,329.6L406.3,321.3L402.5,319.2L398.5,318.1L394.2,318.9L390.2,318.0L387.8,320.0L382.9,320.5L378.0,320.0L375.0,322.5L372.5,330.1L368.8,332.2L367.4,335.9L364.7,338.7L366.2,344.8L370.2,346.5L374.7,346.0L378.8,347.4L387.9,343.9Z" fill="#ed8b60" stroke="#ed8b60" stroke-width=".5"/>
<path d="M406.3,321.3L404.8,329.6L401.9,337.5L405.3,338.7L407.8,341.7L410.4,342.4L412.0,340.0L418.0,342.4L421.6,341.0L416.8,336.7L415.0,333.6L413.5,326.4L410.4,320.0Z" fill="#ef9872" stroke="#ef9872" stroke-width=".5"/>
<path d="M402.0,358.0L413.0,347.0L410.0,343.0L410.4,342.4L407.8,341.7L405.3,338.7L401.9,337.5L397.6,337.1L390.1,340.5L387.9,343.9L378.8,347.4L381.0,350.5L380.9,354.2L381.9,357.6L383.7,360.8L383.4,364.5L384.0,368.0L388.0,369.8L392.6,371.0L394.0,369.0L396.0,363.0Z" fill="#ef9872" stroke="#ef9872" stroke-width=".5"/>
<path d="M359.7,358.2L361.6,366.1L364.8,368.9L366.7,372.3L364.5,381.0L369.1,386.1L372.9,386.0L376.5,388.0L380.1,389.1L384.5,389.0L386.0,383.0L389.0,376.0L392.6,371.0L388.0,369.8L384.0,368.0L383.4,364.5L383.7,360.8L381.9,357.6L380.9,354.2L381.0,350.5L378.8,347.4L374.7,346.0L370.2,346.5L366.2,344.8L362.7,347.5L361.0,351.7L357.9,354.7ZM391.0,386.0L390.8,386.5L391.7,385.8Z" fill="#ed8b60" stroke="#ed8b60" stroke-width=".5"/>
<path d="M336.3,323.3L332.4,334.5L330.5,337.9L327.6,340.8L328.6,344.7L332.0,352.0L336.0,353.8L340.5,354.4L344.0,357.3L347.5,356.7L351.1,356.9L357.9,354.7L361.0,351.7L362.7,347.5L366.2,344.8L364.7,338.7L361.3,336.8L358.8,333.9L357.3,330.1L348.0,323.5L346.1,320.1L344.0,319.5L339.7,320.5Z" fill="#ef9872" stroke="#ef9872" stroke-width=".5"/>
<path d="M320.5,376.5L323.5,379.3L325.1,383.0L328.5,385.5L333.0,384.8L337.2,385.7L341.4,387.3L347.4,384.9L350.7,383.7L354.2,383.1L357.4,381.6L364.5,381.0L366.7,372.3L364.8,368.9L361.6,366.1L359.7,358.2L357.9,354.7L351.1,356.9L347.5,356.7L344.0,357.3L340.5,354.4L336.0,353.8L332.0,352.0L328.5,353.9L326.2,356.6L324.6,359.9L323.6,363.7L321.7,366.7L318.4,368.6Z" fill="#ed8b60" stroke="#ed8b60" stroke-width=".5"/>
<path d="M156.9,359.8L155.3,359.9L153.0,363.0L162.0,380.0L166.0,384.0L177.1,387.9L179.2,387.7L183.1,385.7L191.3,386.4L192.8,383.0L197.0,377.0L195.3,373.7L194.1,370.1L189.7,363.9L188.7,360.3L185.0,358.9L181.0,358.9L176.7,360.5L166.1,359.1L163.2,356.6Z" fill="#ed8b60" stroke="#ed8b60" stroke-width=".5"/>
<path d="M189.7,363.9L194.1,370.1L195.3,373.7L197.0,377.0L192.8,383.0L191.3,386.4L195.6,392.8L198.4,395.6L200.7,403.2L204.0,404.1L208.3,402.7L211.6,399.8L215.3,397.5L216.1,393.8L216.5,390.1L215.8,386.3L216.8,378.8L215.0,377.0L214.7,368.9L215.0,364.8L216.4,360.7L215.0,356.6L210.7,357.5L202.8,355.7L199.0,353.7L195.1,355.2L188.7,360.3Z" fill="#ed8b60" stroke="#ed8b60" stroke-width=".5"/>
<path d="M215.0,364.8L215.0,377.0L216.8,378.8L215.8,386.3L216.5,390.1L215.3,397.5L218.5,399.5L228.7,404.3L232.4,405.3L234.5,402.2L235.7,398.6L238.7,396.1L239.8,392.6L243.1,390.2L243.8,386.3L245.7,383.2L243.7,379.7L240.9,376.8L241.2,373.3L240.0,369.7L240.2,366.2L241.8,362.8L234.8,361.0L231.5,359.5L228.7,356.7L225.3,355.6L221.5,355.5L218.3,354.0L215.0,356.6L216.4,360.7Z" fill="#ed8b60" stroke="#ed8b60" stroke-width=".5"/>
<path d="M240.2,366.2L240.0,369.7L241.2,373.3L240.9,376.8L243.7,379.7L245.7,383.2L249.3,384.2L253.1,384.7L256.6,386.1L264.9,382.8L268.6,380.3L268.1,373.1L269.5,369.6L270.8,362.5L270.3,358.9L266.7,358.1L263.3,356.7L259.4,356.7L256.4,353.8L252.4,354.3L249.1,352.7L247.0,356.3L244.1,359.3L241.8,362.8Z" fill="#ed8b60" stroke="#ed8b60" stroke-width=".5"/>
<path d="M305.0,398.0L308.7,397.4L316.0,398.0L317.5,394.5L324.0,391.0L328.5,385.5L325.1,383.0L323.5,379.3L320.5,376.5L318.4,368.6L314.5,367.9L306.9,370.8L303.0,369.7L300.0,367.7L296.3,369.3L293.2,371.8L289.6,373.6L284.5,380.1L281.4,382.6L277.4,383.9L279.4,386.8L282.9,388.9L284.6,392.0L286.8,399.0L291.0,399.3L299.1,398.1L303.0,396.7Z" fill="#ef9872" stroke="#ef9872" stroke-width=".5"/>
<path d="M177.1,387.9L181.0,389.0L176.0,394.0L182.0,398.0L179.0,404.0L178.0,410.0L180.0,414.0L186.0,419.0L192.1,430.4L197.0,430.5L204.7,429.7L208.2,430.6L211.7,432.2L209.5,429.0L206.5,422.3L204.9,415.2L205.0,411.4L204.0,407.9L204.0,404.1L200.7,403.2L198.4,395.6L195.6,392.8L191.3,386.4L183.1,385.7L179.2,387.7ZM186.0,429.7L191.0,430.4L190.0,428.0L183.0,419.0L178.0,418.0L178.7,426.5Z" fill="#ed8b60" stroke="#ed8b60" stroke-width=".5"/>
<path d="M204.0,407.9L205.0,411.4L204.9,415.2L206.5,422.3L209.5,429.0L212.5,433.0L215.3,430.6L218.7,429.3L220.8,426.0L224.5,425.2L226.6,421.8L230.7,421.5L236.4,417.1L235.6,413.0L233.2,409.4L232.4,405.3L228.7,404.3L218.5,399.5L215.3,397.5L211.6,399.8L208.3,402.7L204.0,404.1Z" fill="#ef9872" stroke="#ef9872" stroke-width=".5"/>
<path d="M243.8,386.3L243.1,390.2L239.8,392.6L238.7,396.1L235.7,398.6L234.5,402.2L232.4,405.3L233.2,409.4L235.6,413.0L236.4,417.1L239.7,419.5L243.4,420.9L247.4,421.6L249.6,418.5L253.0,417.1L255.6,414.7L259.3,413.7L262.1,411.5L260.9,407.9L261.3,404.0L259.1,400.7L258.9,397.0L256.6,386.1L253.1,384.7L249.3,384.2L245.7,383.2Z" fill="#f2a888" stroke="#f2a888" stroke-width=".5"/>
<path d="M256.6,386.1L258.9,397.0L259.1,400.7L261.3,404.0L260.9,407.9L262.1,411.5L265.9,412.7L269.9,413.2L273.7,414.5L277.8,414.0L279.1,409.7L281.0,405.8L284.5,402.7L286.8,399.0L284.6,392.0L282.9,388.9L279.4,386.8L277.4,383.9L273.2,381.6L268.6,380.3L264.9,382.8Z" fill="#ef9872" stroke="#ef9872" stroke-width=".5"/>
<path d="M308.7,425.3L312.7,425.3L316.2,423.4L320.0,422.7L320.8,418.2L323.4,414.5L325.4,410.6L320.1,404.7L316.0,398.0L308.7,397.4L305.0,398.0L303.0,396.7L299.1,398.1L291.0,399.3L286.8,399.0L284.5,402.7L281.0,405.8L279.1,409.7L277.8,414.0L280.4,417.9L282.2,422.2L285.7,423.6L289.4,423.9L292.9,425.2L296.1,427.8L303.7,428.0L305.0,426.6Z" fill="#ed8b60" stroke="#ed8b60" stroke-width=".5"/>
<path d="M320.1,404.7L325.4,410.6L323.4,414.5L320.8,418.2L320.0,422.7L323.6,423.9L331.0,431.5L335.0,430.0L339.3,430.3L343.2,428.8L347.6,428.4L346.9,423.7L347.0,418.9L338.8,411.4L335.5,409.6L335.4,405.6L336.8,402.0L338.8,398.5L338.6,394.5L339.5,390.8L341.4,387.3L337.2,385.7L333.0,384.8L328.5,385.5L324.0,391.0L317.5,394.5L316.0,398.0Z" fill="#ef9872" stroke="#ef9872" stroke-width=".5"/>
<path d="M339.5,390.8L338.6,394.5L338.8,398.5L336.8,402.0L335.4,405.6L335.5,409.6L338.8,411.4L347.0,418.9L350.9,416.8L355.0,409.6L357.4,406.3L353.8,403.9L349.2,392.7L344.2,386.5L341.4,387.3Z" fill="#ec885c" stroke="#ec885c" stroke-width=".5"/>
<path d="M349.2,392.7L353.8,403.9L357.4,406.3L362.0,405.3L366.7,405.5L370.1,407.3L374.1,408.3L379.8,413.8L383.8,413.6L385.6,412.0L385.5,408.0L387.3,400.2L387.4,392.7L384.0,391.0L384.5,389.0L380.1,389.1L376.5,388.0L372.9,386.0L369.1,386.1L364.5,381.0L357.4,381.6L354.2,383.1L350.7,383.7L347.4,384.9L344.2,386.5Z" fill="#ec885c" stroke="#ec885c" stroke-width=".5"/>
<path d="M387.4,392.7L387.3,400.2L385.5,408.0L385.6,412.0L389.2,411.5L392.8,411.9L396.3,411.5L399.9,412.1L403.4,410.8L406.9,410.5L409.3,409.7L411.0,408.0L412.0,402.0L407.0,394.0L408.0,384.0L402.0,383.0L391.7,385.8L390.8,386.5L388.0,393.0Z" fill="#ef9872" stroke="#ef9872" stroke-width=".5"/>
<path d="M357.4,406.3L350.9,416.8L347.0,418.9L346.9,423.7L347.6,428.4L351.4,430.3L359.8,430.7L363.8,432.1L367.2,434.9L369.4,438.2L371.5,446.3L375.4,446.3L379.3,446.9L382.8,444.4L386.6,444.0L392.3,437.0L388.7,430.7L388.8,426.9L386.8,423.9L385.7,420.5L383.7,417.4L383.8,413.6L379.8,413.8L374.1,408.3L370.1,407.3L366.7,405.5L362.0,405.3Z" fill="#ee9269" stroke="#ee9269" stroke-width=".5"/>
<path d="M383.7,417.4L385.7,420.5L386.8,423.9L388.8,426.9L388.7,430.7L392.3,437.0L399.3,436.6L403.2,437.2L412.0,433.0L416.0,426.0L411.0,418.0L408.0,411.0L409.3,409.7L406.9,410.5L403.4,410.8L399.9,412.1L396.3,411.5L392.8,411.9L389.2,411.5L385.6,412.0L383.8,413.6Z" fill="#ef9872" stroke="#ef9872" stroke-width=".5"/>
<path d="M183.0,459.0L185.6,462.4L193.0,467.0L195.6,470.4L199.6,469.8L203.6,470.3L207.6,470.0L211.5,471.7L215.1,465.4L216.5,462.1L217.6,458.8L218.4,451.5L220.0,448.3L218.5,444.6L215.3,442.2L213.1,438.9L213.2,435.9L212.5,433.0L208.2,430.6L204.7,429.7L197.0,430.5L192.1,430.4L193.6,435.2L193.1,435.4L191.0,430.4L186.0,429.7L178.7,426.5L179.0,430.0L178.0,448.0L179.0,454.0L178.0,457.1Z" fill="#ef9872" stroke="#ef9872" stroke-width=".5"/>
<path d="M213.2,435.9L213.1,438.9L215.3,442.2L218.5,444.6L220.0,448.3L224.0,449.1L227.4,452.1L231.6,452.1L235.4,453.7L239.7,453.6L248.7,441.4L251.8,439.1L251.5,435.4L250.0,432.1L249.6,428.5L247.4,421.6L243.4,420.9L239.7,419.5L236.4,417.1L230.7,421.5L226.6,421.8L224.5,425.2L220.8,426.0L218.7,429.3L215.3,430.6L212.5,433.0Z" fill="#ef9872" stroke="#ef9872" stroke-width=".5"/>
<path d="M247.4,421.6L249.6,428.5L250.0,432.1L251.5,435.4L251.8,439.1L255.4,441.0L259.4,441.7L262.9,443.7L267.1,443.6L271.0,444.6L272.9,443.6L275.2,440.3L276.6,436.7L279.3,433.7L280.5,425.7L282.2,422.2L280.4,417.9L277.8,414.0L273.7,414.5L269.9,413.2L265.9,412.7L262.1,411.5L259.3,413.7L255.6,414.7L253.0,417.1L249.6,418.5Z" fill="#f2a888" stroke="#f2a888" stroke-width=".5"/>
<path d="M280.5,425.7L279.3,433.7L276.6,436.7L275.2,440.3L272.9,443.6L276.3,445.6L280.2,446.2L284.3,446.0L288.1,446.8L291.4,449.2L298.4,452.5L302.3,449.0L305.3,444.7L305.4,440.5L303.5,436.4L304.1,432.2L303.7,428.0L296.1,427.8L292.9,425.2L289.4,423.9L285.7,423.6L282.2,422.2Z" fill="#f2a888" stroke="#f2a888" stroke-width=".5"/>
<path d="M304.1,432.2L303.5,436.4L305.4,440.5L305.3,444.7L309.1,445.0L312.4,447.1L316.5,446.0L320.2,446.6L323.4,449.0L324.2,445.2L327.2,442.4L326.4,437.8L331.0,431.5L323.6,423.9L320.0,422.7L316.2,423.4L312.7,425.3L308.7,425.3L305.0,426.6L303.7,428.0Z" fill="#ef9872" stroke="#ef9872" stroke-width=".5"/>
<path d="M239.7,453.6L242.1,461.2L245.7,462.7L249.8,462.9L253.3,464.5L257.3,465.0L260.2,468.3L264.1,468.9L267.3,471.3L268.9,470.6L267.8,466.7L267.1,459.2L269.7,455.7L269.2,451.9L271.0,444.6L267.1,443.6L262.9,443.7L259.4,441.7L255.4,441.0L251.8,439.1L248.7,441.4Z" fill="#f2a888" stroke="#f2a888" stroke-width=".5"/>
<path d="M218.4,451.5L217.6,458.8L216.5,462.1L215.1,465.4L211.5,471.7L217.0,479.0L220.5,478.8L224.1,477.3L227.6,477.9L231.1,479.5L234.7,479.0L236.3,475.5L236.5,471.4L241.0,464.9L242.1,461.2L239.7,453.6L235.4,453.7L231.6,452.1L227.4,452.1L224.0,449.1L220.0,448.3Z" fill="#ec875a" stroke="#ec875a" stroke-width=".5"/>
<path d="M269.2,451.9L269.7,455.7L267.1,459.2L267.8,466.7L268.9,470.6L273.5,472.6L278.5,473.1L281.9,475.0L283.6,478.1L284.2,482.1L287.7,483.9L289.5,486.9L293.1,486.7L296.7,487.2L300.2,486.5L303.6,484.9L307.5,481.9L309.7,477.5L309.8,475.7L306.2,473.5L303.6,470.7L303.0,466.6L300.2,463.9L298.3,460.6L298.4,452.5L291.4,449.2L288.1,446.8L284.3,446.0L280.2,446.2L276.3,445.6L272.9,443.6L271.0,444.6Z" fill="#f4b398" stroke="#f4b398" stroke-width=".5"/>
<path d="M298.3,460.6L300.2,463.9L303.0,466.6L303.6,470.7L306.2,473.5L309.8,475.7L312.4,472.9L319.6,469.8L322.7,467.5L327.0,461.0L326.2,457.2L327.0,453.4L323.4,449.0L320.2,446.6L316.5,446.0L312.4,447.1L309.1,445.0L305.3,444.7L302.3,449.0L298.4,452.5Z" fill="#f2a888" stroke="#f2a888" stroke-width=".5"/>
<path d="M326.4,437.8L327.2,442.4L324.2,445.2L323.4,449.0L327.0,453.4L326.2,457.2L327.0,461.0L330.5,463.5L332.1,467.9L334.8,471.2L339.0,473.0L346.3,473.0L350.5,469.1L351.9,465.3L353.4,457.4L351.5,453.9L349.1,451.0L345.4,449.4L345.8,445.2L347.4,441.2L345.7,432.6L347.4,428.6L343.2,428.8L339.3,430.3L335.0,430.0L331.0,431.5Z" fill="#f2a888" stroke="#f2a888" stroke-width=".5"/>
<path d="M345.7,432.6L347.4,441.2L345.8,445.2L345.4,449.4L349.1,451.0L351.5,453.9L353.4,457.4L351.9,465.3L350.5,469.1L354.5,469.7L357.9,471.9L366.0,473.0L369.2,475.7L371.8,471.2L375.4,467.4L371.7,464.4L368.6,456.5L368.5,451.9L371.5,446.3L369.4,438.2L367.2,434.9L363.8,432.1L359.8,430.7L351.4,430.3L347.6,428.4Z" fill="#f2a888" stroke="#f2a888" stroke-width=".5"/>
<path d="M393.7,460.0L400.9,460.3L404.5,461.5L408.1,461.6L409.6,460.9L410.0,456.0L413.0,451.0L403.2,437.2L399.3,436.6L392.3,437.0L386.6,444.0L382.8,444.4L379.3,446.9L375.4,446.3L371.5,446.3L368.5,451.9L368.6,456.5L371.7,464.4L375.4,467.4L379.6,467.2L387.9,468.7Z" fill="#f7c1ab" stroke="#f7c1ab" stroke-width=".5"/>
<path d="M397.4,484.4L400.5,485.1L403.3,482.4L404.5,478.4L410.9,473.4L412.8,469.1L409.0,467.0L409.6,460.9L408.1,461.6L404.5,461.5L400.9,460.3L393.7,460.0L387.9,468.7L379.6,467.2L375.4,467.4L371.8,471.2L369.2,475.7L368.6,484.4L370.4,488.5L376.7,491.8L380.4,490.5L387.8,490.0L390.4,486.6L394.3,484.7Z" fill="#f7c1ab" stroke="#f7c1ab" stroke-width=".5"/>
<path d="M412.8,469.1L410.9,473.4L404.5,478.4L403.3,482.4L400.5,485.1L414.8,498.0L418.0,494.0L426.0,489.0L431.0,478.0L420.0,473.0Z" fill="#f9d0c0" stroke="#f9d0c0" stroke-width=".5"/>
<path d="M388.0,519.6L401.0,512.0L403.0,506.0L408.0,502.0L414.0,499.0L414.8,498.0L400.5,485.1L397.4,484.4L394.3,484.7L390.4,486.6L387.8,490.0L380.4,490.5L376.7,491.8L373.0,490.0L373.3,497.0L372.8,500.6L373.9,507.6L373.2,510.7L374.0,511.0L378.0,516.0L384.0,517.0Z" fill="#f9d0c0" stroke="#f9d0c0" stroke-width=".5"/>
<path d="M344.2,491.0L341.8,494.3L338.2,495.6L335.4,498.3L332.0,500.0L332.2,501.0L334.0,501.0L342.0,503.0L352.0,504.0L358.0,507.6L364.0,508.0L373.2,510.7L373.9,507.6L372.8,500.6L373.3,497.0L373.0,490.0L370.4,488.5L366.7,490.4L362.5,490.7L358.7,492.2L355.3,489.0L350.9,487.4L347.3,488.9Z" fill="#f9d0c0" stroke="#f9d0c0" stroke-width=".5"/>
<path d="M346.3,473.0L347.4,480.6L348.7,484.1L350.9,487.4L355.3,489.0L358.7,492.2L362.5,490.7L366.7,490.4L370.4,488.5L368.6,484.4L369.2,475.7L366.0,473.0L357.9,471.9L354.5,469.7L350.5,469.1Z" fill="#f9d0c0" stroke="#f9d0c0" stroke-width=".5"/>
<path d="M322.7,467.5L319.6,469.8L312.4,472.9L309.8,475.7L309.7,477.5L316.5,482.0L328.1,485.7L331.7,492.4L331.1,496.4L332.0,500.0L335.4,498.3L338.2,495.6L341.8,494.3L344.2,491.0L347.3,488.9L350.9,487.4L348.7,484.1L347.4,480.6L346.3,473.0L339.0,473.0L334.8,471.2L332.1,467.9L330.5,463.5L327.0,461.0Z" fill="#f7c1ab" stroke="#f7c1ab" stroke-width=".5"/>
<path d="M320.0,504.0L328.0,501.0L332.2,501.0L331.1,496.4L331.7,492.4L328.1,485.7L316.5,482.0L309.7,477.5L307.5,481.9L303.6,484.9L300.2,486.5L296.7,487.2L293.1,486.7L289.5,486.9L288.3,490.7L286.0,493.9L285.4,498.0L282.5,501.0L284.2,504.0L287.5,506.0L298.3,509.2L301.4,511.9L306.1,513.3L310.0,510.0Z" fill="#f9d0c0" stroke="#f9d0c0" stroke-width=".5"/>
<path d="M175.9,493.3L183.1,493.8L194.5,497.8L198.5,497.5L206.2,499.7L210.2,499.5L211.4,496.1L215.2,489.8L216.8,482.7L217.0,479.0L211.5,471.7L207.6,470.0L203.6,470.3L199.6,469.8L195.6,470.4L193.0,467.0L185.6,462.4L183.0,459.0L178.0,457.1L177.0,460.0L173.0,488.0L172.0,491.8Z" fill="#ef9872" stroke="#ef9872" stroke-width=".5"/>
<path d="M216.8,482.7L215.2,489.8L211.4,496.1L210.2,499.5L217.9,505.3L222.8,504.0L226.6,505.7L230.7,506.9L234.1,504.3L236.2,500.9L237.1,496.8L239.9,493.7L241.0,489.7L240.8,488.1L234.7,479.0L231.1,479.5L227.6,477.9L224.1,477.3L220.5,478.8L217.0,479.0Z" fill="#ef9872" stroke="#ef9872" stroke-width=".5"/>
<path d="M241.0,464.9L236.5,471.4L236.3,475.5L234.7,479.0L240.8,488.1L244.1,486.1L251.8,484.3L258.7,480.8L261.5,477.6L265.0,476.0L267.3,471.3L264.1,468.9L260.2,468.3L257.3,465.0L253.3,464.5L249.8,462.9L245.7,462.7L242.1,461.2Z" fill="#ef9872" stroke="#ef9872" stroke-width=".5"/>
<path d="M265.0,476.0L265.5,483.1L264.1,486.7L264.2,490.3L263.4,493.9L264.6,497.4L265.0,501.0L268.5,499.8L272.0,499.2L275.5,500.9L279.0,500.3L282.5,501.0L285.4,498.0L286.0,493.9L288.3,490.7L289.5,486.9L287.7,483.9L284.2,482.1L283.6,478.1L281.9,475.0L278.5,473.1L273.5,472.6L268.9,470.6L267.3,471.3Z" fill="#f2a888" stroke="#f2a888" stroke-width=".5"/>
<path d="M258.7,480.8L251.8,484.3L244.1,486.1L240.8,488.1L241.0,489.7L239.9,493.7L237.1,496.8L236.2,500.9L234.1,504.3L230.7,506.9L230.9,507.4L229.5,510.7L228.8,514.2L226.4,520.8L224.5,524.0L221.4,531.5L228.0,531.0L233.0,527.0L240.0,531.0L244.2,531.9L245.1,526.9L245.0,523.3L246.7,516.2L250.1,514.8L253.1,512.6L256.6,511.4L259.8,509.6L261.8,506.6L262.2,503.0L265.0,501.0L264.6,497.4L263.4,493.9L264.2,490.3L264.1,486.7L265.5,483.1L265.0,476.0L261.5,477.6Z" fill="#f2a888" stroke="#f2a888" stroke-width=".5"/>
<path d="M189.9,495.9L183.1,493.8L175.9,493.3L172.0,491.8L170.0,500.0L165.0,507.0L170.0,510.0L173.0,516.0L188.0,522.0L197.0,526.4L204.0,527.0L205.6,527.6L205.1,524.2L208.0,517.6L209.7,510.8L210.8,500.2L210.2,499.5L206.2,499.7L198.5,497.5L194.5,497.8L190.7,496.7Z" fill="#ef9872" stroke="#ef9872" stroke-width=".5"/>
<path d="M210.8,500.2L209.7,510.8L208.0,517.6L205.1,524.2L205.6,527.6L212.0,530.0L220.0,531.6L221.4,531.5L224.5,524.0L226.4,520.8L230.9,507.4L230.7,506.9L226.6,505.7L222.8,504.0L217.9,505.3Z" fill="#ee946c" stroke="#ee946c" stroke-width=".5"/>
<path d="M246.7,516.2L245.0,523.3L245.1,526.9L244.2,531.9L256.0,535.0L263.0,538.0L265.6,540.1L270.3,528.6L267.7,526.0L267.3,522.0L267.6,517.7L259.8,509.6L256.6,511.4L253.1,512.6L250.1,514.8Z" fill="#f2a888" stroke="#f2a888" stroke-width=".5"/>
<path d="M259.8,509.6L267.6,517.7L267.3,522.0L267.7,526.0L270.3,528.6L277.6,523.7L282.1,523.0L289.2,524.7L292.2,527.0L295.5,528.3L298.4,530.7L300.1,531.4L301.0,522.0L304.0,515.0L306.1,513.3L301.4,511.9L298.3,509.2L287.5,506.0L284.2,504.0L282.5,501.0L279.0,500.3L275.5,500.9L272.0,499.2L268.5,499.8L265.0,501.0L262.2,503.0L261.8,506.6Z" fill="#f2a888" stroke="#f2a888" stroke-width=".5"/>
<path d="M270.3,528.6L265.6,540.1L271.0,544.4L278.0,543.0L286.0,545.0L292.0,542.0L301.0,540.0L300.1,531.4L298.4,530.7L295.5,528.3L292.2,527.0L289.2,524.7L282.1,523.0L277.6,523.7Z" fill="#f9d0c0" stroke="#f9d0c0" stroke-width=".5"/>
<path d="M479.0,519.0L481.0,530.0L483.0,540.0L483.6,552.0L480.0,562.0L478.0,572.0L473.0,583.0L467.0,578.0L461.0,572.0L459.0,566.0L462.0,562.0L456.0,559.0L459.0,554.0L454.0,550.0L459.0,545.0L457.0,542.0L464.0,537.0L471.0,532.0L476.0,530.0L477.0,522.0Z" fill="#eb8557"/>
</g>
<g stroke="#a9a39d" stroke-width="1.15" stroke-linejoin="round" fill="none">
<path d="M282.3,204.2L286.9,204.0L289.7,207.0L290.0,211.3L299.2,225.1L302.5,228.2L304.9,232.0L312.2,232.3L318.8,229.1L321.7,226.1L328.8,225.5L331.6,225.8L332.0,223.0L328.0,217.0L318.0,217.0L315.0,210.0L306.0,208.0L304.0,200.0L300.0,197.0L293.0,200.0L288.0,192.0L286.0,183.6L270.5,186.9L278.0,202.7ZM262.5,218.6L266.5,218.0L269.7,220.1L272.1,223.4L276.1,224.6L278.6,227.7L282.9,228.2L286.7,227.5L289.6,224.3L292.8,222.1L296.6,221.2L290.0,211.3L289.7,207.0L286.9,204.0L282.3,204.2L278.0,202.7L270.5,186.9L266.0,188.0L259.0,192.0L258.0,202.0L258.6,215.0L258.0,218.0ZM252.6,231.6L258.7,236.7L258.7,240.9L260.0,244.4L262.8,247.1L266.1,245.0L273.4,243.1L277.3,243.3L282.5,247.8L286.6,247.9L290.6,247.1L294.7,247.0L298.6,244.6L302.9,245.9L303.4,242.5L305.4,239.2L304.9,232.0L302.5,228.2L299.2,225.1L296.6,221.2L292.8,222.1L289.6,224.3L286.7,227.5L282.9,228.2L278.6,227.7L276.1,224.6L272.1,223.4L269.7,220.1L266.5,218.0L262.5,218.6L258.0,218.0L257.0,223.0L253.0,229.0L252.0,229.5ZM246.3,257.0L249.8,256.3L256.9,256.5L261.7,250.8L262.8,247.1L260.0,244.4L258.7,240.9L258.7,236.7L252.6,231.6L252.0,229.5L240.0,235.0L230.0,239.0L220.0,245.0L215.6,250.0L216.0,255.0L220.0,257.0L217.8,258.1L219.3,259.3L223.0,260.6L230.6,259.2L234.3,258.0L238.2,258.0L242.0,257.2L242.8,256.5ZM259.6,261.1L263.5,260.2L281.6,264.8L282.9,268.7L285.3,272.0L288.9,271.5L296.1,269.8L299.5,268.3L300.2,264.6L301.8,261.2L305.5,258.7L305.6,254.7L306.4,251.0L302.9,245.9L298.6,244.6L294.7,247.0L290.6,247.1L286.6,247.9L282.5,247.8L277.3,243.3L273.4,243.1L266.1,245.0L262.8,247.1L261.7,250.8L256.9,256.5ZM305.4,239.2L303.4,242.5L302.9,245.9L306.4,251.0L305.6,254.7L305.5,258.7L301.8,261.2L300.2,264.6L299.5,268.3L305.2,273.3L311.7,277.4L314.4,280.0L316.1,283.8L317.2,280.2L319.9,277.4L321.1,273.9L323.2,270.8L326.7,268.4L328.5,261.0L329.9,257.5L329.2,256.3L329.8,252.7L331.1,249.3L329.6,245.3L331.0,242.0L333.8,238.9L333.2,235.1L334.3,232.8L333.0,233.0L331.0,230.0L331.6,225.8L328.8,225.5L321.7,226.1L318.8,229.1L312.2,232.3L304.9,232.0ZM333.2,235.1L333.8,238.9L331.0,242.0L329.6,245.3L331.1,249.3L329.8,252.7L329.2,256.3L329.9,257.5L333.9,258.1L340.3,263.2L344.4,263.6L347.2,261.3L351.0,260.2L356.8,251.1L358.3,247.6L361.1,246.1L350.0,234.0L351.0,227.0L349.0,224.4L345.0,231.0L334.3,232.8ZM328.5,261.0L326.7,268.4L323.2,270.8L321.1,273.9L319.9,277.4L317.2,280.2L316.1,283.8L316.6,288.8L320.7,287.9L328.3,290.4L332.2,291.1L336.2,290.6L340.0,292.0L344.0,291.9L349.0,287.2L350.7,282.4L351.6,277.4L347.2,270.9L346.9,266.6L344.4,263.6L340.3,263.2L333.9,258.1L329.9,257.5ZM356.8,251.1L351.0,260.2L347.2,261.3L344.4,263.6L346.9,266.6L347.2,270.9L351.6,277.4L350.7,282.4L349.0,287.2L352.6,289.1L355.4,292.5L360.1,292.4L362.8,295.9L366.0,298.5L370.3,299.0L375.1,297.7L378.8,294.4L379.3,289.4L380.8,284.6L377.5,282.9L374.8,280.2L370.7,279.6L365.7,273.8L367.2,269.2L370.7,265.9L370.2,262.0L366.0,251.0L361.1,246.1L358.3,247.6ZM366.0,251.0L370.2,262.0L370.7,265.9L367.2,269.2L365.7,273.8L370.7,279.6L374.8,280.2L377.5,282.9L380.8,284.6L379.3,289.4L378.8,294.4L382.4,296.1L388.2,301.3L391.5,303.4L394.8,300.6L399.1,299.4L402.4,300.9L406.1,301.3L412.3,305.4L416.2,305.4L417.7,301.4L418.2,297.0L420.1,293.1L417.7,285.3L415.1,282.1L413.8,281.4L405.5,283.4L401.2,282.5L397.7,281.3L392.4,276.4L391.9,276.4L388.7,274.0L387.1,270.1L381.8,264.3L382.4,260.8L384.7,254.7L381.0,255.0L376.0,251.0L368.0,253.0ZM382.4,260.8L381.8,264.3L387.1,270.1L388.7,274.0L391.9,276.4L392.4,276.4L397.7,281.3L401.2,282.5L405.5,283.4L413.8,281.4L415.1,282.1L430.4,273.3L429.0,273.0L422.0,267.4L412.0,270.0L408.0,265.6L404.0,266.0L398.0,259.0L392.0,254.0L384.7,254.7ZM417.7,285.3L420.1,293.1L418.2,297.0L417.7,301.4L416.2,305.4L417.4,307.9L418.0,310.5L428.0,313.3L428.0,312.0L432.0,303.0L436.0,296.0L440.0,286.0L445.0,277.0L430.4,273.3L415.1,282.1ZM410.4,320.0L413.5,326.4L415.0,333.6L416.8,336.7L421.6,341.0L424.0,340.0L427.0,333.0L428.0,324.0L428.0,313.3L418.0,310.5L412.4,316.4ZM223.0,260.6L220.7,271.5L220.7,275.2L223.0,278.8L226.5,280.8L234.8,280.6L238.7,281.2L244.0,286.0L245.7,285.8L249.5,284.4L251.8,281.2L254.7,278.7L257.1,275.6L260.2,273.4L260.6,269.3L259.4,265.2L259.6,261.1L256.9,256.5L249.8,256.3L246.3,257.0L242.8,256.5L242.0,257.2L238.2,258.0L234.3,258.0L230.6,259.2ZM259.4,265.2L260.6,269.3L260.2,273.4L263.7,274.8L266.6,277.2L270.7,277.6L273.8,279.6L276.7,282.2L281.4,281.0L284.0,276.8L285.3,272.0L282.9,268.7L281.6,264.8L263.5,260.2L259.6,261.1ZM257.1,275.6L254.7,278.7L251.8,281.2L249.5,284.4L245.7,285.8L258.6,292.1L261.1,294.9L264.1,296.7L265.8,293.0L269.5,291.2L270.1,286.7L276.7,282.2L273.8,279.6L270.7,277.6L266.6,277.2L263.7,274.8L260.2,273.4ZM264.1,296.7L265.6,305.8L276.1,310.5L279.9,311.4L284.9,308.8L285.8,297.1L288.3,293.6L287.9,289.5L285.2,287.1L281.4,281.0L276.7,282.2L270.1,286.7L269.5,291.2L265.8,293.0ZM281.4,281.0L285.2,287.1L287.9,289.5L288.3,293.6L285.8,297.1L284.9,308.8L288.9,308.9L292.2,311.7L296.0,312.3L300.2,311.8L303.7,313.9L305.9,310.6L312.5,306.6L313.5,303.1L312.4,299.4L313.6,295.9L314.1,292.3L316.6,288.8L316.1,283.8L314.4,280.0L311.7,277.4L305.2,273.3L299.5,268.3L296.1,269.8L285.3,272.0L284.0,276.8ZM313.6,295.9L312.4,299.4L313.5,303.1L312.5,306.6L315.0,309.4L318.1,311.2L320.9,313.6L328.0,316.1L330.9,318.4L333.2,321.5L336.3,323.3L339.7,320.5L344.0,319.5L343.1,315.6L344.3,311.6L344.0,307.7L343.0,303.7L344.3,299.8L344.0,291.9L340.0,292.0L336.2,290.6L332.2,291.1L328.3,290.4L320.7,287.9L316.6,288.8L314.1,292.3ZM207.7,279.6L212.3,280.7L216.0,283.9L219.1,280.7L223.0,278.8L220.7,275.2L220.7,271.5L223.0,260.6L219.3,259.3L217.8,258.1L212.0,261.0L204.0,261.6L192.0,259.6L184.4,259.1L183.0,260.6L183.9,268.8L183.0,273.1L184.6,277.1L191.1,280.4L193.0,283.7L199.4,280.1L203.0,279.2ZM165.0,260.0L168.0,270.0L167.6,282.0L171.0,290.0L169.0,291.3L170.9,292.3L173.2,295.3L176.5,297.3L181.3,303.3L184.3,301.2L190.7,297.8L191.5,294.3L191.5,290.7L193.0,283.7L191.1,280.4L184.6,277.1L183.0,273.1L183.9,268.8L183.0,260.6L184.4,259.1L183.0,259.0L179.0,252.6L178.3,245.0L173.0,245.0L168.0,247.0L162.0,246.0L157.7,244.6ZM191.5,290.7L191.5,294.3L190.7,297.8L194.2,299.6L197.9,300.8L202.0,301.4L204.7,304.7L208.1,306.6L211.4,302.9L216.0,301.3L223.4,305.5L231.1,308.7L235.7,307.9L237.8,304.5L238.7,300.7L241.0,297.4L240.8,293.1L244.0,286.0L238.7,281.2L234.8,280.6L226.5,280.8L223.0,278.8L219.1,280.7L216.0,283.9L212.3,280.7L207.7,279.6L203.0,279.2L199.4,280.1L193.0,283.7ZM244.0,286.0L240.8,293.1L241.0,297.4L238.7,300.7L237.8,304.5L235.7,307.9L237.6,312.0L241.9,312.0L245.9,313.2L250.1,313.7L253.9,315.6L257.0,313.3L260.6,311.7L263.6,309.4L265.6,305.8L264.1,296.7L261.1,294.9L258.6,292.1L245.7,285.8ZM107.6,299.4L107.3,287.5L104.0,287.0L98.0,289.0L88.0,290.0L79.0,295.0L78.0,301.0L86.0,303.0L83.0,308.0L92.0,307.0L86.0,312.0L79.0,316.0L88.0,320.0L90.0,326.0L100.0,325.0L107.6,326.9L107.7,322.0L110.0,318.8L111.2,311.6L112.7,308.2L111.0,305.3L108.6,302.9ZM107.3,287.5L107.6,299.4L108.6,302.9L111.0,305.3L112.7,308.2L116.7,308.7L120.6,310.7L132.9,309.8L134.5,312.2L136.8,314.0L145.5,315.9L149.9,315.8L153.8,312.9L154.5,309.4L157.1,306.4L157.7,299.3L156.6,295.5L158.8,292.4L158.9,290.3L156.0,292.0L149.0,289.0L144.0,291.0L137.0,296.0L133.0,290.0L125.0,280.0L120.0,282.0L112.0,284.0L111.0,288.0ZM111.2,311.6L110.0,318.8L107.7,322.0L107.6,326.9L115.0,331.0L124.0,335.0L126.0,339.0L134.0,337.0L140.0,341.0L140.9,342.7L142.3,341.0L145.4,339.1L151.0,334.2L154.7,333.2L154.4,329.5L150.2,323.2L149.9,315.8L145.5,315.9L136.8,314.0L134.5,312.2L132.9,309.8L120.6,310.7L116.7,308.7L112.7,308.2ZM156.6,295.5L157.7,299.3L157.1,306.4L154.5,309.4L153.8,312.9L149.9,315.8L149.8,319.6L150.2,323.2L154.4,329.5L154.7,333.2L161.2,336.7L164.6,335.6L167.4,333.1L170.5,331.4L181.0,328.8L182.5,326.8L180.9,318.5L177.9,315.3L179.5,311.4L179.7,307.2L181.3,303.3L176.5,297.3L173.2,295.3L170.9,292.3L169.0,291.3L168.0,292.0L161.0,289.0L158.9,290.3L158.8,292.4ZM179.7,307.2L179.5,311.4L177.9,315.3L180.9,318.5L182.5,326.8L186.6,327.9L190.8,327.2L194.9,328.4L199.0,328.9L202.3,328.0L205.1,326.2L205.9,322.3L207.8,318.6L207.1,314.4L207.3,310.5L208.1,306.6L204.7,304.7L202.0,301.4L197.9,300.8L194.2,299.6L190.7,297.8L184.3,301.2L181.3,303.3ZM207.3,310.5L207.1,314.4L207.8,318.6L205.9,322.3L205.1,326.2L212.8,328.2L216.2,330.4L219.3,333.1L223.3,334.0L228.3,332.2L229.0,328.4L231.7,325.6L233.3,322.3L233.4,318.2L236.2,315.4L237.6,312.0L235.7,307.9L231.1,308.7L223.4,305.5L216.0,301.3L211.4,302.9L208.1,306.6ZM256.3,323.4L259.5,330.9L263.6,332.7L268.0,332.3L276.5,333.7L277.9,332.9L282.0,332.7L285.4,335.4L289.1,336.6L293.0,337.0L297.1,336.5L300.7,338.2L301.9,337.4L300.6,329.4L301.9,325.6L304.2,321.8L303.7,313.9L300.2,311.8L296.0,312.3L292.2,311.7L288.9,308.9L284.9,308.8L279.9,311.4L276.1,310.5L265.6,305.8L263.6,309.4L260.6,311.7L257.0,313.3L253.9,315.6L256.6,319.0ZM303.7,313.9L304.2,321.8L301.9,325.6L300.6,329.4L301.9,337.4L309.5,336.8L313.0,338.2L316.7,338.7L320.4,338.6L327.6,340.8L330.5,337.9L334.1,331.0L336.3,323.3L333.2,321.5L330.9,318.4L328.0,316.1L320.9,313.6L318.1,311.2L315.0,309.4L312.5,306.6L305.9,310.6ZM233.4,318.2L233.3,322.3L231.7,325.6L229.0,328.4L228.3,332.2L231.0,335.0L234.7,336.3L240.9,340.6L244.5,342.1L247.5,344.4L247.8,348.6L249.1,352.7L252.4,354.3L256.4,353.8L259.4,356.7L263.3,356.7L266.7,358.1L270.3,358.9L271.6,358.0L271.9,354.4L271.3,350.7L271.8,347.2L274.1,344.1L273.8,340.4L275.8,337.2L276.5,333.7L268.0,332.3L263.6,332.7L259.5,330.9L256.3,323.4L256.6,319.0L253.9,315.6L250.1,313.7L245.9,313.2L241.9,312.0L237.6,312.0L236.2,315.4ZM166.1,359.1L176.7,360.5L181.0,358.9L181.5,355.1L181.4,347.6L183.5,340.1L182.6,336.3L182.6,332.6L181.0,328.8L170.5,331.4L167.4,333.1L164.6,335.6L161.2,336.7L154.7,333.2L151.0,334.2L145.4,339.1L142.3,341.0L140.9,342.7L144.0,348.0L149.0,351.0L151.0,356.0L156.0,359.0L155.3,359.9L156.9,359.8L163.2,356.6ZM202.8,355.7L210.7,357.5L215.0,356.6L218.3,354.0L218.0,349.6L219.5,341.5L223.3,334.0L219.3,333.1L216.2,330.4L212.8,328.2L205.1,326.2L202.3,328.0L199.0,328.9L194.9,328.4L190.8,327.2L186.6,327.9L182.5,326.8L181.0,328.8L182.6,332.6L182.6,336.3L183.5,340.1L181.4,347.6L181.5,355.1L181.0,358.9L185.0,358.9L188.7,360.3L195.1,355.2L199.0,353.7ZM223.3,334.0L219.5,341.5L218.0,349.6L218.3,354.0L221.5,355.5L225.3,355.6L228.7,356.7L231.5,359.5L234.8,361.0L241.8,362.8L244.1,359.3L247.0,356.3L249.1,352.7L247.8,348.6L247.5,344.4L244.5,342.1L240.9,340.6L234.7,336.3L231.0,335.0L228.3,332.2ZM273.8,340.4L274.1,344.1L271.8,347.2L271.3,350.7L271.9,354.4L271.6,358.0L270.3,358.9L270.8,362.5L269.5,369.6L268.1,373.1L268.6,380.3L273.2,381.6L277.4,383.9L281.4,382.6L284.5,380.1L289.6,373.6L293.2,371.8L296.3,369.3L300.0,367.7L298.4,363.7L296.0,360.2L296.4,356.4L297.6,352.9L297.3,348.9L299.5,345.6L300.7,338.2L297.1,336.5L293.0,337.0L289.1,336.6L285.4,335.4L282.0,332.7L277.9,332.9L276.5,333.7L275.8,337.2ZM300.7,338.2L299.5,345.6L297.3,348.9L297.6,352.9L296.4,356.4L296.0,360.2L298.4,363.7L300.0,367.7L303.0,369.7L306.9,370.8L314.5,367.9L318.4,368.6L321.7,366.7L323.6,363.7L324.6,359.9L326.2,356.6L328.5,353.9L332.0,352.0L328.6,344.7L327.6,340.8L324.0,339.5L320.4,338.6L316.7,338.7L313.0,338.2L309.5,336.8L305.7,336.9L301.9,337.4ZM344.3,299.8L343.0,303.7L344.0,307.7L344.3,311.6L343.1,315.6L344.0,319.5L346.1,320.1L348.0,323.5L357.3,330.1L358.8,333.9L361.3,336.8L364.7,338.7L367.4,335.9L368.8,332.2L372.5,330.1L375.0,322.5L378.0,320.0L375.6,315.9L372.3,312.7L368.2,310.2L367.7,306.3L368.0,302.5L370.3,299.0L366.0,298.5L362.8,295.9L360.1,292.4L355.4,292.5L352.6,289.1L349.0,287.2L344.0,291.9ZM367.7,306.3L368.2,310.2L372.3,312.7L375.6,315.9L378.0,320.0L382.9,320.5L387.8,320.0L390.2,318.0L394.2,318.9L398.5,318.1L402.5,319.2L406.3,321.3L410.4,320.0L412.4,316.4L418.0,310.5L417.4,307.9L416.2,305.4L412.3,305.4L406.1,301.3L402.4,300.9L399.1,299.4L394.8,300.6L391.5,303.4L388.2,301.3L382.4,296.1L378.8,294.4L375.1,297.7L370.3,299.0L368.0,302.5ZM390.1,340.5L397.6,337.1L401.9,337.5L404.8,329.6L406.3,321.3L402.5,319.2L398.5,318.1L394.2,318.9L390.2,318.0L387.8,320.0L382.9,320.5L378.0,320.0L375.0,322.5L372.5,330.1L368.8,332.2L367.4,335.9L364.7,338.7L366.2,344.8L370.2,346.5L374.7,346.0L378.8,347.4L387.9,343.9ZM406.3,321.3L404.8,329.6L401.9,337.5L405.3,338.7L407.8,341.7L410.4,342.4L412.0,340.0L418.0,342.4L421.6,341.0L416.8,336.7L415.0,333.6L413.5,326.4L410.4,320.0ZM402.0,358.0L413.0,347.0L410.0,343.0L410.4,342.4L407.8,341.7L405.3,338.7L401.9,337.5L397.6,337.1L390.1,340.5L387.9,343.9L378.8,347.4L381.0,350.5L380.9,354.2L381.9,357.6L383.7,360.8L383.4,364.5L384.0,368.0L388.0,369.8L392.6,371.0L394.0,369.0L396.0,363.0ZM359.7,358.2L361.6,366.1L364.8,368.9L366.7,372.3L364.5,381.0L369.1,386.1L372.9,386.0L376.5,388.0L380.1,389.1L384.5,389.0L386.0,383.0L389.0,376.0L392.6,371.0L388.0,369.8L384.0,368.0L383.4,364.5L383.7,360.8L381.9,357.6L380.9,354.2L381.0,350.5L378.8,347.4L374.7,346.0L370.2,346.5L366.2,344.8L362.7,347.5L361.0,351.7L357.9,354.7ZM391.0,386.0L390.8,386.5L391.7,385.8ZM336.3,323.3L332.4,334.5L330.5,337.9L327.6,340.8L328.6,344.7L332.0,352.0L336.0,353.8L340.5,354.4L344.0,357.3L347.5,356.7L351.1,356.9L357.9,354.7L361.0,351.7L362.7,347.5L366.2,344.8L364.7,338.7L361.3,336.8L358.8,333.9L357.3,330.1L348.0,323.5L346.1,320.1L344.0,319.5L339.7,320.5ZM320.5,376.5L323.5,379.3L325.1,383.0L328.5,385.5L333.0,384.8L337.2,385.7L341.4,387.3L347.4,384.9L350.7,383.7L354.2,383.1L357.4,381.6L364.5,381.0L366.7,372.3L364.8,368.9L361.6,366.1L359.7,358.2L357.9,354.7L351.1,356.9L347.5,356.7L344.0,357.3L340.5,354.4L336.0,353.8L332.0,352.0L328.5,353.9L326.2,356.6L324.6,359.9L323.6,363.7L321.7,366.7L318.4,368.6ZM156.9,359.8L155.3,359.9L153.0,363.0L162.0,380.0L166.0,384.0L177.1,387.9L179.2,387.7L183.1,385.7L191.3,386.4L192.8,383.0L197.0,377.0L195.3,373.7L194.1,370.1L189.7,363.9L188.7,360.3L185.0,358.9L181.0,358.9L176.7,360.5L166.1,359.1L163.2,356.6ZM189.7,363.9L194.1,370.1L195.3,373.7L197.0,377.0L192.8,383.0L191.3,386.4L195.6,392.8L198.4,395.6L200.7,403.2L204.0,404.1L208.3,402.7L211.6,399.8L215.3,397.5L216.1,393.8L216.5,390.1L215.8,386.3L216.8,378.8L215.0,377.0L214.7,368.9L215.0,364.8L216.4,360.7L215.0,356.6L210.7,357.5L202.8,355.7L199.0,353.7L195.1,355.2L188.7,360.3ZM215.0,364.8L215.0,377.0L216.8,378.8L215.8,386.3L216.5,390.1L215.3,397.5L218.5,399.5L228.7,404.3L232.4,405.3L234.5,402.2L235.7,398.6L238.7,396.1L239.8,392.6L243.1,390.2L243.8,386.3L245.7,383.2L243.7,379.7L240.9,376.8L241.2,373.3L240.0,369.7L240.2,366.2L241.8,362.8L234.8,361.0L231.5,359.5L228.7,356.7L225.3,355.6L221.5,355.5L218.3,354.0L215.0,356.6L216.4,360.7ZM240.2,366.2L240.0,369.7L241.2,373.3L240.9,376.8L243.7,379.7L245.7,383.2L249.3,384.2L253.1,384.7L256.6,386.1L264.9,382.8L268.6,380.3L268.1,373.1L269.5,369.6L270.8,362.5L270.3,358.9L266.7,358.1L263.3,356.7L259.4,356.7L256.4,353.8L252.4,354.3L249.1,352.7L247.0,356.3L244.1,359.3L241.8,362.8ZM305.0,398.0L308.7,397.4L316.0,398.0L317.5,394.5L324.0,391.0L328.5,385.5L325.1,383.0L323.5,379.3L320.5,376.5L318.4,368.6L314.5,367.9L306.9,370.8L303.0,369.7L300.0,367.7L296.3,369.3L293.2,371.8L289.6,373.6L284.5,380.1L281.4,382.6L277.4,383.9L279.4,386.8L282.9,388.9L284.6,392.0L286.8,399.0L291.0,399.3L299.1,398.1L303.0,396.7ZM177.1,387.9L181.0,389.0L176.0,394.0L182.0,398.0L179.0,404.0L178.0,410.0L180.0,414.0L186.0,419.0L192.1,430.4L197.0,430.5L204.7,429.7L208.2,430.6L211.7,432.2L209.5,429.0L206.5,422.3L204.9,415.2L205.0,411.4L204.0,407.9L204.0,404.1L200.7,403.2L198.4,395.6L195.6,392.8L191.3,386.4L183.1,385.7L179.2,387.7ZM186.0,429.7L191.0,430.4L190.0,428.0L183.0,419.0L178.0,418.0L178.7,426.5ZM204.0,407.9L205.0,411.4L204.9,415.2L206.5,422.3L209.5,429.0L212.5,433.0L215.3,430.6L218.7,429.3L220.8,426.0L224.5,425.2L226.6,421.8L230.7,421.5L236.4,417.1L235.6,413.0L233.2,409.4L232.4,405.3L228.7,404.3L218.5,399.5L215.3,397.5L211.6,399.8L208.3,402.7L204.0,404.1ZM243.8,386.3L243.1,390.2L239.8,392.6L238.7,396.1L235.7,398.6L234.5,402.2L232.4,405.3L233.2,409.4L235.6,413.0L236.4,417.1L239.7,419.5L243.4,420.9L247.4,421.6L249.6,418.5L253.0,417.1L255.6,414.7L259.3,413.7L262.1,411.5L260.9,407.9L261.3,404.0L259.1,400.7L258.9,397.0L256.6,386.1L253.1,384.7L249.3,384.2L245.7,383.2ZM256.6,386.1L258.9,397.0L259.1,400.7L261.3,404.0L260.9,407.9L262.1,411.5L265.9,412.7L269.9,413.2L273.7,414.5L277.8,414.0L279.1,409.7L281.0,405.8L284.5,402.7L286.8,399.0L284.6,392.0L282.9,388.9L279.4,386.8L277.4,383.9L273.2,381.6L268.6,380.3L264.9,382.8ZM308.7,425.3L312.7,425.3L316.2,423.4L320.0,422.7L320.8,418.2L323.4,414.5L325.4,410.6L320.1,404.7L316.0,398.0L308.7,397.4L305.0,398.0L303.0,396.7L299.1,398.1L291.0,399.3L286.8,399.0L284.5,402.7L281.0,405.8L279.1,409.7L277.8,414.0L280.4,417.9L282.2,422.2L285.7,423.6L289.4,423.9L292.9,425.2L296.1,427.8L303.7,428.0L305.0,426.6ZM320.1,404.7L325.4,410.6L323.4,414.5L320.8,418.2L320.0,422.7L323.6,423.9L331.0,431.5L335.0,430.0L339.3,430.3L343.2,428.8L347.6,428.4L346.9,423.7L347.0,418.9L338.8,411.4L335.5,409.6L335.4,405.6L336.8,402.0L338.8,398.5L338.6,394.5L339.5,390.8L341.4,387.3L337.2,385.7L333.0,384.8L328.5,385.5L324.0,391.0L317.5,394.5L316.0,398.0ZM339.5,390.8L338.6,394.5L338.8,398.5L336.8,402.0L335.4,405.6L335.5,409.6L338.8,411.4L347.0,418.9L350.9,416.8L355.0,409.6L357.4,406.3L353.8,403.9L349.2,392.7L344.2,386.5L341.4,387.3ZM349.2,392.7L353.8,403.9L357.4,406.3L362.0,405.3L366.7,405.5L370.1,407.3L374.1,408.3L379.8,413.8L383.8,413.6L385.6,412.0L385.5,408.0L387.3,400.2L387.4,392.7L384.0,391.0L384.5,389.0L380.1,389.1L376.5,388.0L372.9,386.0L369.1,386.1L364.5,381.0L357.4,381.6L354.2,383.1L350.7,383.7L347.4,384.9L344.2,386.5ZM387.4,392.7L387.3,400.2L385.5,408.0L385.6,412.0L389.2,411.5L392.8,411.9L396.3,411.5L399.9,412.1L403.4,410.8L406.9,410.5L409.3,409.7L411.0,408.0L412.0,402.0L407.0,394.0L408.0,384.0L402.0,383.0L391.7,385.8L390.8,386.5L388.0,393.0ZM357.4,406.3L350.9,416.8L347.0,418.9L346.9,423.7L347.6,428.4L351.4,430.3L359.8,430.7L363.8,432.1L367.2,434.9L369.4,438.2L371.5,446.3L375.4,446.3L379.3,446.9L382.8,444.4L386.6,444.0L392.3,437.0L388.7,430.7L388.8,426.9L386.8,423.9L385.7,420.5L383.7,417.4L383.8,413.6L379.8,413.8L374.1,408.3L370.1,407.3L366.7,405.5L362.0,405.3ZM383.7,417.4L385.7,420.5L386.8,423.9L388.8,426.9L388.7,430.7L392.3,437.0L399.3,436.6L403.2,437.2L412.0,433.0L416.0,426.0L411.0,418.0L408.0,411.0L409.3,409.7L406.9,410.5L403.4,410.8L399.9,412.1L396.3,411.5L392.8,411.9L389.2,411.5L385.6,412.0L383.8,413.6ZM183.0,459.0L185.6,462.4L193.0,467.0L195.6,470.4L199.6,469.8L203.6,470.3L207.6,470.0L211.5,471.7L215.1,465.4L216.5,462.1L217.6,458.8L218.4,451.5L220.0,448.3L218.5,444.6L215.3,442.2L213.1,438.9L213.2,435.9L212.5,433.0L208.2,430.6L204.7,429.7L197.0,430.5L192.1,430.4L193.6,435.2L193.1,435.4L191.0,430.4L186.0,429.7L178.7,426.5L179.0,430.0L178.0,448.0L179.0,454.0L178.0,457.1ZM213.2,435.9L213.1,438.9L215.3,442.2L218.5,444.6L220.0,448.3L224.0,449.1L227.4,452.1L231.6,452.1L235.4,453.7L239.7,453.6L248.7,441.4L251.8,439.1L251.5,435.4L250.0,432.1L249.6,428.5L247.4,421.6L243.4,420.9L239.7,419.5L236.4,417.1L230.7,421.5L226.6,421.8L224.5,425.2L220.8,426.0L218.7,429.3L215.3,430.6L212.5,433.0ZM247.4,421.6L249.6,428.5L250.0,432.1L251.5,435.4L251.8,439.1L255.4,441.0L259.4,441.7L262.9,443.7L267.1,443.6L271.0,444.6L272.9,443.6L275.2,440.3L276.6,436.7L279.3,433.7L280.5,425.7L282.2,422.2L280.4,417.9L277.8,414.0L273.7,414.5L269.9,413.2L265.9,412.7L262.1,411.5L259.3,413.7L255.6,414.7L253.0,417.1L249.6,418.5ZM280.5,425.7L279.3,433.7L276.6,436.7L275.2,440.3L272.9,443.6L276.3,445.6L280.2,446.2L284.3,446.0L288.1,446.8L291.4,449.2L298.4,452.5L302.3,449.0L305.3,444.7L305.4,440.5L303.5,436.4L304.1,432.2L303.7,428.0L296.1,427.8L292.9,425.2L289.4,423.9L285.7,423.6L282.2,422.2ZM304.1,432.2L303.5,436.4L305.4,440.5L305.3,444.7L309.1,445.0L312.4,447.1L316.5,446.0L320.2,446.6L323.4,449.0L324.2,445.2L327.2,442.4L326.4,437.8L331.0,431.5L323.6,423.9L320.0,422.7L316.2,423.4L312.7,425.3L308.7,425.3L305.0,426.6L303.7,428.0ZM239.7,453.6L242.1,461.2L245.7,462.7L249.8,462.9L253.3,464.5L257.3,465.0L260.2,468.3L264.1,468.9L267.3,471.3L268.9,470.6L267.8,466.7L267.1,459.2L269.7,455.7L269.2,451.9L271.0,444.6L267.1,443.6L262.9,443.7L259.4,441.7L255.4,441.0L251.8,439.1L248.7,441.4ZM218.4,451.5L217.6,458.8L216.5,462.1L215.1,465.4L211.5,471.7L217.0,479.0L220.5,478.8L224.1,477.3L227.6,477.9L231.1,479.5L234.7,479.0L236.3,475.5L236.5,471.4L241.0,464.9L242.1,461.2L239.7,453.6L235.4,453.7L231.6,452.1L227.4,452.1L224.0,449.1L220.0,448.3ZM269.2,451.9L269.7,455.7L267.1,459.2L267.8,466.7L268.9,470.6L273.5,472.6L278.5,473.1L281.9,475.0L283.6,478.1L284.2,482.1L287.7,483.9L289.5,486.9L293.1,486.7L296.7,487.2L300.2,486.5L303.6,484.9L307.5,481.9L309.7,477.5L309.8,475.7L306.2,473.5L303.6,470.7L303.0,466.6L300.2,463.9L298.3,460.6L298.4,452.5L291.4,449.2L288.1,446.8L284.3,446.0L280.2,446.2L276.3,445.6L272.9,443.6L271.0,444.6ZM298.3,460.6L300.2,463.9L303.0,466.6L303.6,470.7L306.2,473.5L309.8,475.7L312.4,472.9L319.6,469.8L322.7,467.5L327.0,461.0L326.2,457.2L327.0,453.4L323.4,449.0L320.2,446.6L316.5,446.0L312.4,447.1L309.1,445.0L305.3,444.7L302.3,449.0L298.4,452.5ZM326.4,437.8L327.2,442.4L324.2,445.2L323.4,449.0L327.0,453.4L326.2,457.2L327.0,461.0L330.5,463.5L332.1,467.9L334.8,471.2L339.0,473.0L346.3,473.0L350.5,469.1L351.9,465.3L353.4,457.4L351.5,453.9L349.1,451.0L345.4,449.4L345.8,445.2L347.4,441.2L345.7,432.6L347.4,428.6L343.2,428.8L339.3,430.3L335.0,430.0L331.0,431.5ZM345.7,432.6L347.4,441.2L345.8,445.2L345.4,449.4L349.1,451.0L351.5,453.9L353.4,457.4L351.9,465.3L350.5,469.1L354.5,469.7L357.9,471.9L366.0,473.0L369.2,475.7L371.8,471.2L375.4,467.4L371.7,464.4L368.6,456.5L368.5,451.9L371.5,446.3L369.4,438.2L367.2,434.9L363.8,432.1L359.8,430.7L351.4,430.3L347.6,428.4ZM393.7,460.0L400.9,460.3L404.5,461.5L408.1,461.6L409.6,460.9L410.0,456.0L413.0,451.0L403.2,437.2L399.3,436.6L392.3,437.0L386.6,444.0L382.8,444.4L379.3,446.9L375.4,446.3L371.5,446.3L368.5,451.9L368.6,456.5L371.7,464.4L375.4,467.4L379.6,467.2L387.9,468.7ZM397.4,484.4L400.5,485.1L403.3,482.4L404.5,478.4L410.9,473.4L412.8,469.1L409.0,467.0L409.6,460.9L408.1,461.6L404.5,461.5L400.9,460.3L393.7,460.0L387.9,468.7L379.6,467.2L375.4,467.4L371.8,471.2L369.2,475.7L368.6,484.4L370.4,488.5L376.7,491.8L380.4,490.5L387.8,490.0L390.4,486.6L394.3,484.7ZM412.8,469.1L410.9,473.4L404.5,478.4L403.3,482.4L400.5,485.1L414.8,498.0L418.0,494.0L426.0,489.0L431.0,478.0L420.0,473.0ZM388.0,519.6L401.0,512.0L403.0,506.0L408.0,502.0L414.0,499.0L414.8,498.0L400.5,485.1L397.4,484.4L394.3,484.7L390.4,486.6L387.8,490.0L380.4,490.5L376.7,491.8L373.0,490.0L373.3,497.0L372.8,500.6L373.9,507.6L373.2,510.7L374.0,511.0L378.0,516.0L384.0,517.0ZM344.2,491.0L341.8,494.3L338.2,495.6L335.4,498.3L332.0,500.0L332.2,501.0L334.0,501.0L342.0,503.0L352.0,504.0L358.0,507.6L364.0,508.0L373.2,510.7L373.9,507.6L372.8,500.6L373.3,497.0L373.0,490.0L370.4,488.5L366.7,490.4L362.5,490.7L358.7,492.2L355.3,489.0L350.9,487.4L347.3,488.9ZM346.3,473.0L347.4,480.6L348.7,484.1L350.9,487.4L355.3,489.0L358.7,492.2L362.5,490.7L366.7,490.4L370.4,488.5L368.6,484.4L369.2,475.7L366.0,473.0L357.9,471.9L354.5,469.7L350.5,469.1ZM322.7,467.5L319.6,469.8L312.4,472.9L309.8,475.7L309.7,477.5L316.5,482.0L328.1,485.7L331.7,492.4L331.1,496.4L332.0,500.0L335.4,498.3L338.2,495.6L341.8,494.3L344.2,491.0L347.3,488.9L350.9,487.4L348.7,484.1L347.4,480.6L346.3,473.0L339.0,473.0L334.8,471.2L332.1,467.9L330.5,463.5L327.0,461.0ZM320.0,504.0L328.0,501.0L332.2,501.0L331.1,496.4L331.7,492.4L328.1,485.7L316.5,482.0L309.7,477.5L307.5,481.9L303.6,484.9L300.2,486.5L296.7,487.2L293.1,486.7L289.5,486.9L288.3,490.7L286.0,493.9L285.4,498.0L282.5,501.0L284.2,504.0L287.5,506.0L298.3,509.2L301.4,511.9L306.1,513.3L310.0,510.0ZM175.9,493.3L183.1,493.8L194.5,497.8L198.5,497.5L206.2,499.7L210.2,499.5L211.4,496.1L215.2,489.8L216.8,482.7L217.0,479.0L211.5,471.7L207.6,470.0L203.6,470.3L199.6,469.8L195.6,470.4L193.0,467.0L185.6,462.4L183.0,459.0L178.0,457.1L177.0,460.0L173.0,488.0L172.0,491.8ZM216.8,482.7L215.2,489.8L211.4,496.1L210.2,499.5L217.9,505.3L222.8,504.0L226.6,505.7L230.7,506.9L234.1,504.3L236.2,500.9L237.1,496.8L239.9,493.7L241.0,489.7L240.8,488.1L234.7,479.0L231.1,479.5L227.6,477.9L224.1,477.3L220.5,478.8L217.0,479.0ZM241.0,464.9L236.5,471.4L236.3,475.5L234.7,479.0L240.8,488.1L244.1,486.1L251.8,484.3L258.7,480.8L261.5,477.6L265.0,476.0L267.3,471.3L264.1,468.9L260.2,468.3L257.3,465.0L253.3,464.5L249.8,462.9L245.7,462.7L242.1,461.2ZM265.0,476.0L265.5,483.1L264.1,486.7L264.2,490.3L263.4,493.9L264.6,497.4L265.0,501.0L268.5,499.8L272.0,499.2L275.5,500.9L279.0,500.3L282.5,501.0L285.4,498.0L286.0,493.9L288.3,490.7L289.5,486.9L287.7,483.9L284.2,482.1L283.6,478.1L281.9,475.0L278.5,473.1L273.5,472.6L268.9,470.6L267.3,471.3ZM258.7,480.8L251.8,484.3L244.1,486.1L240.8,488.1L241.0,489.7L239.9,493.7L237.1,496.8L236.2,500.9L234.1,504.3L230.7,506.9L230.9,507.4L229.5,510.7L228.8,514.2L226.4,520.8L224.5,524.0L221.4,531.5L228.0,531.0L233.0,527.0L240.0,531.0L244.2,531.9L245.1,526.9L245.0,523.3L246.7,516.2L250.1,514.8L253.1,512.6L256.6,511.4L259.8,509.6L261.8,506.6L262.2,503.0L265.0,501.0L264.6,497.4L263.4,493.9L264.2,490.3L264.1,486.7L265.5,483.1L265.0,476.0L261.5,477.6ZM189.9,495.9L183.1,493.8L175.9,493.3L172.0,491.8L170.0,500.0L165.0,507.0L170.0,510.0L173.0,516.0L188.0,522.0L197.0,526.4L204.0,527.0L205.6,527.6L205.1,524.2L208.0,517.6L209.7,510.8L210.8,500.2L210.2,499.5L206.2,499.7L198.5,497.5L194.5,497.8L190.7,496.7ZM210.8,500.2L209.7,510.8L208.0,517.6L205.1,524.2L205.6,527.6L212.0,530.0L220.0,531.6L221.4,531.5L224.5,524.0L226.4,520.8L230.9,507.4L230.7,506.9L226.6,505.7L222.8,504.0L217.9,505.3ZM246.7,516.2L245.0,523.3L245.1,526.9L244.2,531.9L256.0,535.0L263.0,538.0L265.6,540.1L270.3,528.6L267.7,526.0L267.3,522.0L267.6,517.7L259.8,509.6L256.6,511.4L253.1,512.6L250.1,514.8ZM259.8,509.6L267.6,517.7L267.3,522.0L267.7,526.0L270.3,528.6L277.6,523.7L282.1,523.0L289.2,524.7L292.2,527.0L295.5,528.3L298.4,530.7L300.1,531.4L301.0,522.0L304.0,515.0L306.1,513.3L301.4,511.9L298.3,509.2L287.5,506.0L284.2,504.0L282.5,501.0L279.0,500.3L275.5,500.9L272.0,499.2L268.5,499.8L265.0,501.0L262.2,503.0L261.8,506.6ZM270.3,528.6L265.6,540.1L271.0,544.4L278.0,543.0L286.0,545.0L292.0,542.0L301.0,540.0L300.1,531.4L298.4,530.7L295.5,528.3L292.2,527.0L289.2,524.7L282.1,523.0L277.6,523.7Z"/>
<path d="M479.0,519.0L481.0,530.0L483.0,540.0L483.6,552.0L480.0,562.0L478.0,572.0L473.0,583.0L467.0,578.0L461.0,572.0L459.0,566.0L462.0,562.0L456.0,559.0L459.0,554.0L454.0,550.0L459.0,545.0L457.0,542.0L464.0,537.0L471.0,532.0L476.0,530.0L477.0,522.0Z"/>
<path d="M457.0,545.0L469.0,552.0L474.0,564.0L480.0,565.0"/>
</g>
<path d="M177.5,415.5L184,418.5L190.5,427.5L195.5,440.5L190.5,431L184.5,421.5L178,418Z" fill="#0b2838"/>
<path d="M275,280L279,278.5L282,281L281,285L277,285.5L274.5,283Z" fill="#e9e9e9" stroke="#a9a39d" stroke-width=".7"/>
<g fill="#6f7f78" opacity=".8"><ellipse cx="153" cy="265.6" rx="2.6" ry="1.8"/><ellipse cx="140" cy="255" rx="2" ry="1.6"/><ellipse cx="69" cy="298" rx="1.6" ry="1"/><ellipse cx="35" cy="234" rx="1.5" ry="1.2"/><ellipse cx="150" cy="243" rx="1.3" ry="1"/></g>
<g fill="#ee8f67" stroke="#a9a39d" stroke-width=".5"><path d="M120,344L125,346L126,348.5L122,347Z"/><path d="M144,370L148,371.5L147,373L144,372Z"/><path d="M161,392L165,394L164,396Z"/></g>
<g><rect x="505" y="162.4" width="33.8" height="66.8" fill="#fff"/><rect x="505" y="194.8" width="33.8" height="1.8" fill="#ececec"/><rect x="505" y="233.8" width="33.8" height="33" fill="#fff"/><rect x="505" y="271" width="33.8" height="33.6" fill="#fff"/>
<g stroke="#7f858c" stroke-width="1.7" fill="none"><path d="M515.6,179.2H528.2M521.9,172.9V185.5"/><path d="M515.6,212.6H528.2"/></g>
<path d="M519.6,246.6H524.6L527.8,253.9H516.2Z" fill="#81878e"/>
<path d="M521.9,279.6L525.3,288L521.9,296.4L518.5,288Z" fill="#81878e"/><path d="M521.9,283.8L523.6,288H520.2Z" fill="#fff"/>
</g>
<g><rect x="13" y="597" width="7" height="6.6" fill="#f25022"/><rect x="21" y="597" width="7" height="6.6" fill="#7fba00"/><rect x="13" y="604.6" width="7" height="6.6" fill="#00a4ef"/><rect x="21" y="604.6" width="7" height="6.6" fill="#ffb900"/>
<text x="32" y="608.3" font-family="Liberation Sans, sans-serif" font-size="12.2" fill="#fff" stroke="#fff" stroke-width=".3" textLength="85.5" lengthAdjust="spacingAndGlyphs">Microsoft Azure</text></g>
<g font-family="Liberation Sans, sans-serif" font-size="9.6" fill="#e6e6e6"><text x="372.5" y="607.4" stroke="#0a2030" stroke-width="1.6" stroke-opacity=".35" paint-order="stroke" textLength="122" lengthAdjust="spacingAndGlyphs">©2026 EarthStar Geographics</text><text x="500" y="607.4" textLength="38.5" lengthAdjust="spacingAndGlyphs">Feedback</text><rect x="500" y="609.3" width="38.5" height=".9"/></g>
</svg></div>

<div class="btn" style="left:24px">Production (t)</div>
<div class="btn" style="left:193px">Surface (ha)</div>
<div class="btn on" style="left:362px">Rendement moyen<br>(t/ha)</div>

<div class="card" style="left:571px;background:#64cbe9"></div>
<div class="card" style="left:762.4px;width:179.2px;background:#a9d96c"></div>
<div class="card" style="left:955px;background:#e36c38"></div>
<div class="card" style="left:1147px;width:179.6px;background:#000"></div>

<div class="bdg" style="left:577px;top:141px;border-color:#64cbe9"></div>
<div class="bdg" style="left:577px;top:180px;border-color:#64cbe9"></div>
<div class="bdg" style="left:769px;top:141px;border-color:#a9d96c"></div>
<div class="bdg" style="left:769px;top:180px;border-color:#a9d96c"></div>
<div class="bdg" style="left:961px;top:141px;border-color:#e36c38"></div>
<div class="bdg" style="left:961px;top:180px;border-color:#e36c38"></div>

<div class="ttl" style="left:559.6px;top:218px">France</div>

<svg class="abs" style="left:0;top:0" width="1334" height="672" viewBox="0 0 1334 672">

<g fill="#fff" font-weight="bold" stroke="#fff" stroke-width=".7" stroke-linejoin="round">
<text x="597.5" y="77.6" font-size="36" textLength="106.3" lengthAdjust="spacingAndGlyphs">35.13M</text>
<text x="712" y="77.6" font-size="20.5" textLength="11.8" lengthAdjust="spacingAndGlyphs">T</text>
<text x="790.8" y="77.6" font-size="36" textLength="88" lengthAdjust="spacingAndGlyphs">4.75M</text>
<text x="888.3" y="77.6" font-size="20.5" textLength="23.8" lengthAdjust="spacingAndGlyphs">Ha</text>
<text x="988.8" y="77.6" font-size="36" textLength="57" lengthAdjust="spacingAndGlyphs">7.39</text>
<text x="1057.5" y="77.6" font-size="20.5" textLength="44.5" lengthAdjust="spacingAndGlyphs">T/Ha</text>
<text x="1206.2" y="77.6" font-size="36" textLength="21.8" lengthAdjust="spacingAndGlyphs">A</text>
<g stroke="#fff" stroke-width="4" stroke-linecap="round"><path d="M1233.3,69H1241.7M1237.5,64.8V73.2M1251.8,69H1260.2M1256,64.8V73.2"/></g>
</g>
<g fill="#fff" font-style="italic" font-size="15.5">
<text x="625.5" y="107" textLength="70.8" lengthAdjust="spacingAndGlyphs">Production</text>
<text x="827" y="107" textLength="48.5" lengthAdjust="spacingAndGlyphs">Surface</text>
<text x="983.2" y="107" textLength="123" lengthAdjust="spacingAndGlyphs">Rendement moyen</text>
<text x="1203.8" y="107" textLength="65" lengthAdjust="spacingAndGlyphs">Confiance</text>
</g>
<g font-weight="bold" fill="#0c8a0c">
<g font-size="15">
<text x="595" y="162.6" textLength="38.2" lengthAdjust="spacingAndGlyphs">4.3 %</text>
<text x="595" y="201.3" textLength="35" lengthAdjust="spacingAndGlyphs">2.2 %</text>
<text x="787" y="162.6" textLength="37.5" lengthAdjust="spacingAndGlyphs">1.2 %</text>
<text x="786.2" y="201.3" textLength="43.8" lengthAdjust="spacingAndGlyphs" fill="#d8334c">-2.1 %</text>
<text x="978.8" y="162.6" textLength="38.2" lengthAdjust="spacingAndGlyphs">3.1 %</text>
<text x="978.8" y="201.3" textLength="38.2" lengthAdjust="spacingAndGlyphs">4.4 %</text>
</g>
<g font-size="11">
<text x="639.5" y="162.6" textLength="32.5" lengthAdjust="spacingAndGlyphs">vs N-1</text>
<text x="635.8" y="201.3" textLength="75" lengthAdjust="spacingAndGlyphs">vs moy. olymp</text>
<text x="830.8" y="162.6" textLength="33" lengthAdjust="spacingAndGlyphs">vs N-1</text>
<text x="835.8" y="201.3" textLength="76" lengthAdjust="spacingAndGlyphs" fill="#d8334c">vs moy. olymp</text>
<text x="1023.2" y="162.6" textLength="33" lengthAdjust="spacingAndGlyphs">vs N-1</text>
<text x="1023.2" y="201.3" textLength="74.8" lengthAdjust="spacingAndGlyphs">vs moy. olymp</text>
</g>
</g>
<g font-size="13.3" fill="#605e5c" letter-spacing=".25">
<circle cx="762.5" cy="257" r="4.6" fill="#64cbe9"/><text x="771" y="261.5" textLength="82.8" lengthAdjust="spacingAndGlyphs">Production (t)</text>
<circle cx="866.3" cy="257" r="4.6" fill="#a9d96c"/><text x="874.5" y="261.5" textLength="71.6" lengthAdjust="spacingAndGlyphs">Surface (ha)</text>
<circle cx="958" cy="257" r="4.6" fill="#e36c38"/><text x="966" y="261.5" textLength="152.8" lengthAdjust="spacingAndGlyphs">Rendement moyen (t/ha)</text>
</g>
<line x1="616" x2="1290" y1="317.3" y2="317.3" stroke="#c8c6c4" stroke-width="1" stroke-dasharray="1 4.2"/><line x1="616" x2="1290" y1="389.3" y2="389.3" stroke="#c8c6c4" stroke-width="1" stroke-dasharray="1 4.2"/><line x1="616" x2="1290" y1="461.3" y2="461.3" stroke="#c8c6c4" stroke-width="1" stroke-dasharray="1 4.2"/><line x1="616" x2="1290" y1="533.3" y2="533.3" stroke="#c8c6c4" stroke-width="1" stroke-dasharray="1 4.2"/><line x1="616" x2="1290" y1="605.3" y2="605.3" stroke="#c8c6c4" stroke-width="1" stroke-dasharray="1 4.2"/>
<g stroke="#c8c6c4" stroke-dasharray="1 4.2">
<line x1="1276" x2="1290" y1="280" y2="280"/><line x1="1276" x2="1290" y1="361.3" y2="361.3"/><line x1="1276" x2="1290" y1="442.6" y2="442.6"/><line x1="1276" x2="1290" y1="524" y2="524"/>
</g>
<path d="M627.0,540.8H629.6V544.2H634.9V540.5H640.1V534.2H645.3V545.8H650.6V539.5H655.8V540.5H661.0V530.0H666.3V543.0H671.5V534.7H676.7V555.8H682.0V541.7H687.2V539.5H692.4V542.0H697.7V549.5H702.9V561.7H708.2V564.2H713.4V578.7H718.6V560.8H723.9V568.7H729.1V558.3H734.3V541.3H739.6V557.5H744.8V550.8H750.0V549.5H755.3V540.0H760.5V559.2H765.7V550.0H771.0V548.8H776.2V538.8H781.5V560.0H786.7V553.3H791.9V540.0H797.2V534.2H802.4V538.7H807.6V549.2H812.9V555.0H818.1V554.2H823.3V534.2H828.6V552.0H833.8V568.7H839.0V565.0H844.3V565.8H849.5V559.2H854.8V559.2H860.0V574.2H865.2V556.7H870.5V581.7H875.7V550.0H880.9V547.2H886.2V549.5H891.4V553.7H896.6V544.7H901.9V540.5H907.1V529.2H912.3V530.5H917.6V563.8H922.8V525.3H928.1V535.8H933.3V522.0H938.5V525.8H943.8V536.7H949.0V508.0H954.2V531.7H959.5V507.5H964.7V501.3H969.9V526.2H975.2V506.2H980.4V502.0H985.7V505.8H990.9V517.5H996.1V497.0H1001.4V481.2H1006.6V482.8H1011.8V470.7H1017.1V505.0H1022.3V495.3H1027.5V485.0H1032.8V459.5H1038.0V469.5H1043.2V437.3H1048.5V443.7H1053.7V424.8H1059.0V428.7H1064.2V371.2H1069.4V400.8H1074.7V420.8H1079.9V419.2H1085.1V403.3H1090.4V385.8H1095.6V378.3H1100.8V375.5H1106.1V384.2H1111.3V400.8H1116.5V392.5H1121.8V390.0H1127.0V355.0H1132.3V367.0H1137.5V329.2H1142.7V349.7H1148.0V347.8H1153.2V387.0H1158.4V336.3H1163.7V395.8H1168.9V334.5H1174.1V354.7H1179.4V365.8H1184.6V384.2H1189.8V340.0H1195.1V344.7H1200.3V348.8H1205.6V360.3H1210.8V348.8H1216.0V339.2H1221.3V337.5H1226.5V313.0H1231.7V405.8H1237.0V341.7H1242.2V359.5H1247.4V319.7H1252.7V394.7H1257.9V349.7H1263.1V362.0H1268.4V351.7H1271.0V605.3H627.0Z" fill="#64cbe9" fill-opacity=".4"/>
<path d="M627.0,555.5H629.6V556.7H634.9V558.0H640.1V558.3H645.3V558.0H650.6V557.8H655.8V557.8H661.0V557.7H666.3V557.7H671.5V557.5H676.7V558.0H682.0V558.7H687.2V557.5H692.4V558.0H697.7V560.8H702.9V564.2H708.2V567.5H713.4V574.2H718.6V572.5H723.9V570.8H729.1V567.5H734.3V566.3H739.6V566.7H744.8V565.3H750.0V565.0H755.3V564.7H760.5V567.0H765.7V567.2H771.0V567.2H776.2V566.3H781.5V566.3H786.7V567.2H791.9V565.8H797.2V565.5H802.4V565.8H807.6V566.7H812.9V567.5H818.1V568.0H823.3V568.7H828.6V571.7H833.8V574.2H839.0V573.3H844.3V573.8H849.5V574.5H854.8V575.3H860.0V577.5H865.2V575.0H870.5V581.7H875.7V574.2H880.9V574.2H886.2V573.8H891.4V573.8H896.6V573.8H901.9V573.8H907.1V572.5H912.3V572.2H917.6V585.8H922.8V571.7H928.1V572.0H933.3V572.8H938.5V573.3H943.8V576.7H949.0V572.8H954.2V577.5H959.5V574.2H964.7V573.0H969.9V576.7H975.2V577.5H980.4V577.0H985.7V577.5H990.9V579.7H996.1V578.0H1001.4V578.3H1006.6V578.0H1011.8V576.7H1017.1V579.7H1022.3V577.0H1027.5V577.0H1032.8V576.7H1038.0V577.0H1043.2V572.8H1048.5V571.7H1053.7V570.8H1059.0V570.8H1064.2V568.8H1069.4V570.8H1074.7V571.7H1079.9V572.0H1085.1V573.0H1090.4V570.8H1095.6V570.5H1100.8V571.2H1106.1V571.3H1111.3V573.8H1116.5V573.3H1121.8V572.0H1127.0V570.5H1132.3V569.7H1137.5V569.2H1142.7V570.3H1148.0V569.5H1153.2V572.8H1158.4V569.5H1163.7V572.5H1168.9V570.0H1174.1V569.7H1179.4V570.0H1184.6V570.0H1189.8V568.7H1195.1V570.8H1200.3V569.5H1205.6V568.8H1210.8V569.7H1216.0V569.2H1221.3V568.8H1226.5V568.0H1231.7V568.0H1237.0V568.8H1242.2V569.5H1247.4V568.8H1252.7V574.2H1257.9V568.8H1263.1V570.5H1268.4V570.5H1271.0V605.3H627.0Z" fill="#b9e8a8" fill-opacity=".62"/>
<path d="M627.0,540.8H629.6V544.2H634.9V540.5H640.1V534.2H645.3V545.8H650.6V539.5H655.8V540.5H661.0V530.0H666.3V543.0H671.5V534.7H676.7V555.8H682.0V541.7H687.2V539.5H692.4V542.0H697.7V549.5H702.9V561.7H708.2V564.2H713.4V578.7H718.6V560.8H723.9V568.7H729.1V558.3H734.3V541.3H739.6V557.5H744.8V550.8H750.0V549.5H755.3V540.0H760.5V559.2H765.7V550.0H771.0V548.8H776.2V538.8H781.5V560.0H786.7V553.3H791.9V540.0H797.2V534.2H802.4V538.7H807.6V549.2H812.9V555.0H818.1V554.2H823.3V534.2H828.6V552.0H833.8V568.7H839.0V565.0H844.3V565.8H849.5V559.2H854.8V559.2H860.0V574.2H865.2V556.7H870.5V581.7H875.7V550.0H880.9V547.2H886.2V549.5H891.4V553.7H896.6V544.7H901.9V540.5H907.1V529.2H912.3V530.5H917.6V563.8H922.8V525.3H928.1V535.8H933.3V522.0H938.5V525.8H943.8V536.7H949.0V508.0H954.2V531.7H959.5V507.5H964.7V501.3H969.9V526.2H975.2V506.2H980.4V502.0H985.7V505.8H990.9V517.5H996.1V497.0H1001.4V481.2H1006.6V482.8H1011.8V470.7H1017.1V505.0H1022.3V495.3H1027.5V485.0H1032.8V459.5H1038.0V469.5H1043.2V437.3H1048.5V443.7H1053.7V424.8H1059.0V428.7H1064.2V371.2H1069.4V400.8H1074.7V420.8H1079.9V419.2H1085.1V403.3H1090.4V385.8H1095.6V378.3H1100.8V375.5H1106.1V384.2H1111.3V400.8H1116.5V392.5H1121.8V390.0H1127.0V355.0H1132.3V367.0H1137.5V329.2H1142.7V349.7H1148.0V347.8H1153.2V387.0H1158.4V336.3H1163.7V395.8H1168.9V334.5H1174.1V354.7H1179.4V365.8H1184.6V384.2H1189.8V340.0H1195.1V344.7H1200.3V348.8H1205.6V360.3H1210.8V348.8H1216.0V339.2H1221.3V337.5H1226.5V313.0H1231.7V405.8H1237.0V341.7H1242.2V359.5H1247.4V319.7H1252.7V394.7H1257.9V349.7H1263.1V362.0H1268.4V351.7H1271.0" fill="none" stroke="#5cc6e8" stroke-width="1.8" stroke-linejoin="miter"/>
<path d="M627.0,555.5H629.6V556.7H634.9V558.0H640.1V558.3H645.3V558.0H650.6V557.8H655.8V557.8H661.0V557.7H666.3V557.7H671.5V557.5H676.7V558.0H682.0V558.7H687.2V557.5H692.4V558.0H697.7V560.8H702.9V564.2H708.2V567.5H713.4V574.2H718.6V572.5H723.9V570.8H729.1V567.5H734.3V566.3H739.6V566.7H744.8V565.3H750.0V565.0H755.3V564.7H760.5V567.0H765.7V567.2H771.0V567.2H776.2V566.3H781.5V566.3H786.7V567.2H791.9V565.8H797.2V565.5H802.4V565.8H807.6V566.7H812.9V567.5H818.1V568.0H823.3V568.7H828.6V571.7H833.8V574.2H839.0V573.3H844.3V573.8H849.5V574.5H854.8V575.3H860.0V577.5H865.2V575.0H870.5V581.7H875.7V574.2H880.9V574.2H886.2V573.8H891.4V573.8H896.6V573.8H901.9V573.8H907.1V572.5H912.3V572.2H917.6V585.8H922.8V571.7H928.1V572.0H933.3V572.8H938.5V573.3H943.8V576.7H949.0V572.8H954.2V577.5H959.5V574.2H964.7V573.0H969.9V576.7H975.2V577.5H980.4V577.0H985.7V577.5H990.9V579.7H996.1V578.0H1001.4V578.3H1006.6V578.0H1011.8V576.7H1017.1V579.7H1022.3V577.0H1027.5V577.0H1032.8V576.7H1038.0V577.0H1043.2V572.8H1048.5V571.7H1053.7V570.8H1059.0V570.8H1064.2V568.8H1069.4V570.8H1074.7V571.7H1079.9V572.0H1085.1V573.0H1090.4V570.8H1095.6V570.5H1100.8V571.2H1106.1V571.3H1111.3V573.8H1116.5V573.3H1121.8V572.0H1127.0V570.5H1132.3V569.7H1137.5V569.2H1142.7V570.3H1148.0V569.5H1153.2V572.8H1158.4V569.5H1163.7V572.5H1168.9V570.0H1174.1V569.7H1179.4V570.0H1184.6V570.0H1189.8V568.7H1195.1V570.8H1200.3V569.5H1205.6V568.8H1210.8V569.7H1216.0V569.2H1221.3V568.8H1226.5V568.0H1231.7V568.0H1237.0V568.8H1242.2V569.5H1247.4V568.8H1252.7V574.2H1257.9V568.8H1263.1V570.5H1268.4V570.5H1271.0" fill="none" stroke="#a9df6b" stroke-width="1.8"/>
<path d="M627.0,553.0C627.9,553.2 630.5,555.3 632.2,554.5C634.0,553.7 635.7,550.2 637.5,548.3C639.2,546.5 641.0,542.4 642.7,543.3C644.5,544.3 646.2,553.4 647.9,554.2C649.7,554.9 651.4,548.8 653.2,548.0C654.9,547.2 656.7,550.4 658.4,549.2C660.2,548.0 661.9,540.4 663.7,540.8C665.4,541.2 667.1,551.0 668.9,551.7C670.6,552.3 672.4,542.9 674.1,544.7C675.9,546.5 677.6,561.7 679.4,562.5C681.1,563.3 682.8,551.8 684.6,549.5C686.3,547.2 688.1,548.4 689.8,548.7C691.6,549.0 693.3,550.4 695.1,551.3C696.8,552.2 698.6,552.8 700.3,554.2C702.0,555.5 703.8,558.5 705.5,559.5C707.3,560.5 709.0,558.4 710.8,560.0C712.5,561.6 714.3,571.0 716.0,569.2C717.8,567.4 719.5,550.6 721.2,549.2C723.0,547.8 724.7,560.1 726.5,560.8C728.2,561.5 730.0,556.9 731.7,553.3C733.5,549.7 735.2,539.0 737.0,539.2C738.7,539.3 740.4,552.4 742.2,554.2C743.9,555.9 745.7,550.7 747.4,549.7C749.2,548.6 750.9,549.6 752.7,548.0C754.4,546.4 756.1,538.6 757.9,540.0C759.6,541.4 761.4,555.4 763.1,556.7C764.9,557.9 766.6,549.4 768.4,547.5C770.1,545.6 771.9,546.9 773.6,545.0C775.3,543.1 777.1,533.6 778.8,535.8C780.6,538.1 782.3,556.2 784.1,558.3C785.8,560.4 787.6,551.9 789.3,548.3C791.1,544.8 792.8,539.8 794.5,537.0C796.3,534.2 798.0,531.9 799.8,531.7C801.5,531.5 803.3,533.5 805.0,535.8C806.8,538.2 808.5,543.3 810.3,545.8C812.0,548.3 813.7,550.3 815.5,550.8C817.2,551.4 819.0,553.3 820.7,549.2C822.5,545.1 824.2,527.4 826.0,526.2C827.7,524.9 829.4,536.6 831.2,541.7C832.9,546.8 834.7,554.8 836.4,556.7C838.2,558.6 839.9,553.6 841.7,553.0C843.4,552.4 845.2,554.6 846.9,553.0C848.6,551.4 850.4,545.3 852.1,543.7C853.9,542.0 855.6,540.3 857.4,543.0C859.1,545.7 860.9,560.4 862.6,559.7C864.4,559.0 866.1,537.8 867.8,538.8C869.6,539.9 871.3,567.2 873.1,565.8C874.8,564.5 876.6,537.4 878.3,530.8C880.1,524.3 881.8,526.5 883.6,526.7C885.3,526.8 887.0,529.9 888.8,531.7C890.5,533.4 892.3,538.0 894.0,537.0C895.8,536.0 897.5,528.8 899.3,525.8C901.0,522.9 902.8,521.9 904.5,519.2C906.2,516.4 908.0,510.2 909.7,509.2C911.5,508.1 913.2,511.1 915.0,513.0C916.7,514.9 918.5,521.1 920.2,520.3C921.9,519.6 923.7,508.5 925.4,508.7C927.2,508.8 928.9,522.6 930.7,521.3C932.4,520.0 934.2,503.8 935.9,500.8C937.7,497.8 939.4,502.2 941.1,503.3C942.9,504.4 944.6,511.1 946.4,507.5C948.1,503.9 949.9,483.8 951.6,482.0C953.4,480.2 955.1,498.1 956.9,497.0C958.6,495.9 960.3,479.4 962.1,475.3C963.8,471.2 965.6,470.0 967.3,472.5C969.1,475.0 970.8,493.0 972.6,490.3C974.3,487.7 976.1,462.4 977.8,456.7C979.5,450.9 981.3,455.2 983.0,455.7C984.8,456.1 986.5,458.0 988.3,459.5C990.0,461.0 991.8,467.8 993.5,464.8C995.2,461.9 997.0,450.1 998.7,442.0C1000.5,433.9 1002.2,419.8 1004.0,416.2C1005.7,412.6 1007.5,420.6 1009.2,420.3C1011.0,420.1 1012.7,410.5 1014.4,414.5C1016.2,418.5 1017.9,438.5 1019.7,444.5C1021.4,450.5 1023.2,452.4 1024.9,450.3C1026.7,448.2 1028.4,440.6 1030.2,432.0C1031.9,423.4 1033.6,402.3 1035.4,398.7C1037.1,395.0 1038.9,410.8 1040.6,410.0C1042.4,409.2 1044.1,394.2 1045.9,394.0C1047.6,393.8 1049.4,409.0 1051.1,408.7C1052.8,408.3 1054.6,394.4 1056.3,392.0C1058.1,389.6 1059.8,402.8 1061.6,394.5C1063.3,386.2 1065.1,347.9 1066.8,342.2C1068.6,336.4 1070.3,353.6 1072.0,360.0C1073.8,366.4 1075.5,377.6 1077.3,380.3C1079.0,383.1 1080.8,381.7 1082.5,376.7C1084.3,371.6 1086.0,355.8 1087.7,350.0C1089.5,344.2 1091.2,343.9 1093.0,341.7C1094.7,339.4 1096.5,338.9 1098.2,336.7C1100.0,334.4 1101.7,327.7 1103.5,328.0C1105.2,328.3 1106.9,336.8 1108.7,338.3C1110.4,339.8 1112.2,338.5 1113.9,337.0C1115.7,335.5 1117.4,329.5 1119.2,329.5C1120.9,329.5 1122.7,340.2 1124.4,337.0C1126.1,333.8 1127.9,311.4 1129.6,310.0C1131.4,308.6 1133.1,331.9 1134.9,328.7C1136.6,325.5 1138.4,294.8 1140.1,290.8C1141.9,286.8 1143.6,301.2 1145.3,304.7C1147.1,308.1 1148.8,307.1 1150.6,311.3C1152.3,315.6 1154.1,332.6 1155.8,330.0C1157.6,327.4 1159.3,293.5 1161.0,295.8C1162.8,298.2 1164.5,345.2 1166.3,344.2C1168.0,343.1 1169.8,294.7 1171.5,289.7C1173.3,284.7 1175.0,308.6 1176.8,314.2C1178.5,319.8 1180.2,318.3 1182.0,323.3C1183.7,328.3 1185.5,346.8 1187.2,344.2C1189.0,341.5 1190.7,315.8 1192.5,307.5C1194.2,299.2 1196.0,294.5 1197.7,294.7C1199.4,294.8 1201.2,302.6 1202.9,308.3C1204.7,314.1 1206.4,329.0 1208.2,329.2C1209.9,329.3 1211.7,313.2 1213.4,309.2C1215.2,305.1 1216.9,306.1 1218.6,304.7C1220.4,303.3 1222.1,303.6 1223.9,300.8C1225.6,298.1 1227.4,273.6 1229.1,288.0C1230.9,302.4 1232.6,384.4 1234.3,387.5C1236.1,390.6 1237.8,317.2 1239.6,306.3C1241.3,295.4 1243.1,325.6 1244.8,322.0C1246.6,318.4 1248.3,283.8 1250.1,284.7C1251.8,285.6 1253.5,322.1 1255.3,327.5C1257.0,332.9 1258.8,319.3 1260.5,317.0C1262.3,314.7 1264.0,315.7 1265.8,313.7C1267.5,311.7 1270.1,306.4 1271.0,305.0" fill="none" stroke="#e2662f" stroke-width="2" stroke-linejoin="round"/>
<g font-size="12" fill="#605e5c"><text x="606.5" y="321.6" text-anchor="end" font-style="italic">40M</text><text x="606.5" y="393.6" text-anchor="end" font-style="italic">30M</text><text x="606.5" y="465.6" text-anchor="end" font-style="italic">20M</text><text x="606.5" y="537.5999999999999" text-anchor="end" font-style="italic">10M</text><text x="606.5" y="609.5999999999999" text-anchor="end" font-style="italic">0M</text><text x="1292" y="284.3" font-style="italic">8</text><text x="1292" y="365.6" font-style="italic">6</text><text x="1292" y="446.90000000000003" font-style="italic">4</text><text x="1292" y="528.3" font-style="italic">2</text><text x="1292" y="609.5999999999999" font-style="italic">0</text><text x="627.0" y="621.5" text-anchor="middle">1900</text><text x="731.7" y="621.5" text-anchor="middle">1920</text><text x="836.4" y="621.5" text-anchor="middle">1940</text><text x="941.1" y="621.5" text-anchor="middle">1960</text><text x="1045.9" y="621.5" text-anchor="middle">1980</text><text x="1150.6" y="621.5" text-anchor="middle">2000</text><text x="1255.3" y="621.5" text-anchor="middle">2020</text></g>
<g font-size="13.6" fill="#2b2a29" stroke="#2b2a29" stroke-width=".45">
<text transform="translate(572.2,442.2) rotate(-90)" text-anchor="middle" textLength="189" lengthAdjust="spacingAndGlyphs">Production (t) et Surface (ha)</text>
<text transform="translate(1319,437.2) rotate(-90)" text-anchor="middle" textLength="173" lengthAdjust="spacingAndGlyphs">Rendement moyen (t/ha)</text>
<text x="949" y="666" text-anchor="middle" textLength="42" lengthAdjust="spacingAndGlyphs">Année</text>
</g>
<g transform="translate(1200,212) scale(0.09524)" stroke="#2b2622" stroke-width="8" stroke-linecap="round" stroke-linejoin="round" fill="none"><path d="M357,430Q362,520 350,592M396,425Q398,520 390,592M315,490Q345,510 348,548M495,433Q425,465 408,505M466,490Q415,515 400,548" stroke-width="12"/><path d="M150,125Q165,145 188,152M282,85Q300,120 298,160M160,330Q175,370 268,377M190,275Q210,300 242,305M345,160Q372,200 362,255M457,70Q430,120 437,178M550,58Q530,80 527,112M596,225Q575,245 545,250M546,320Q530,350 495,366M400,186Q392,225 405,262" stroke-width="10"/><g transform="translate(358,442) rotate(-26.6)"><ellipse cx="-21" cy="-22.0" rx="21" ry="37" transform="rotate(-24 -21 -22.0)" fill="#f7c84f"/><ellipse cx="21" cy="-36.0" rx="21" ry="37" transform="rotate(24 21 -36.0)" fill="#ef9a2c"/><ellipse cx="-21" cy="-80.7" rx="21" ry="37" transform="rotate(-24 -21 -80.7)" fill="#f7c84f"/><ellipse cx="21" cy="-94.7" rx="21" ry="37" transform="rotate(24 21 -94.7)" fill="#ef9a2c"/><ellipse cx="-21" cy="-139.5" rx="21" ry="37" transform="rotate(-24 -21 -139.5)" fill="#f7c84f"/><ellipse cx="21" cy="-153.5" rx="21" ry="37" transform="rotate(24 21 -153.5)" fill="#ef9a2c"/><ellipse cx="-21" cy="-198.2" rx="21" ry="37" transform="rotate(-24 -21 -198.2)" fill="#f7c84f"/><ellipse cx="21" cy="-212.2" rx="21" ry="37" transform="rotate(24 21 -212.2)" fill="#ef9a2c"/><ellipse cx="-21" cy="-256.9" rx="21" ry="37" transform="rotate(-24 -21 -256.9)" fill="#f7c84f"/><ellipse cx="21" cy="-270.9" rx="21" ry="37" transform="rotate(24 21 -270.9)" fill="#ef9a2c"/><ellipse cx="-21" cy="-315.6" rx="21" ry="37" transform="rotate(-24 -21 -315.6)" fill="#f7c84f"/><ellipse cx="21" cy="-329.6" rx="21" ry="37" transform="rotate(24 21 -329.6)" fill="#ef9a2c"/><ellipse cx="0" cy="-360.4" rx="20" ry="34" fill="#ef9a2c"/></g><g transform="translate(396,425) rotate(28.4)"><ellipse cx="-21" cy="-22.0" rx="21" ry="37" transform="rotate(-24 -21 -22.0)" fill="#f7c84f"/><ellipse cx="21" cy="-36.0" rx="21" ry="37" transform="rotate(24 21 -36.0)" fill="#ef9a2c"/><ellipse cx="-21" cy="-78.6" rx="21" ry="37" transform="rotate(-24 -21 -78.6)" fill="#f7c84f"/><ellipse cx="21" cy="-92.6" rx="21" ry="37" transform="rotate(24 21 -92.6)" fill="#ef9a2c"/><ellipse cx="-21" cy="-135.2" rx="21" ry="37" transform="rotate(-24 -21 -135.2)" fill="#f7c84f"/><ellipse cx="21" cy="-149.2" rx="21" ry="37" transform="rotate(24 21 -149.2)" fill="#ef9a2c"/><ellipse cx="-21" cy="-191.8" rx="21" ry="37" transform="rotate(-24 -21 -191.8)" fill="#f7c84f"/><ellipse cx="21" cy="-205.8" rx="21" ry="37" transform="rotate(24 21 -205.8)" fill="#ef9a2c"/><ellipse cx="-21" cy="-248.4" rx="21" ry="37" transform="rotate(-24 -21 -248.4)" fill="#f7c84f"/><ellipse cx="21" cy="-262.4" rx="21" ry="37" transform="rotate(24 21 -262.4)" fill="#ef9a2c"/><ellipse cx="-21" cy="-305.0" rx="21" ry="37" transform="rotate(-24 -21 -305.0)" fill="#f7c84f"/><ellipse cx="21" cy="-319.0" rx="21" ry="37" transform="rotate(24 21 -319.0)" fill="#ef9a2c"/><ellipse cx="0" cy="-347.6" rx="20" ry="34" fill="#ef9a2c"/></g></g>
<line x1="627" x2="1271" y1="641" y2="641" stroke="#3b3a39" stroke-width="3.4"/>
<circle cx="627" cy="641" r="6.8" fill="#fff" stroke="#3b3a39" stroke-width="2"/>
<circle cx="1271" cy="641" r="6.8" fill="#fff" stroke="#3b3a39" stroke-width="2"/>
</svg>
</body></html>
